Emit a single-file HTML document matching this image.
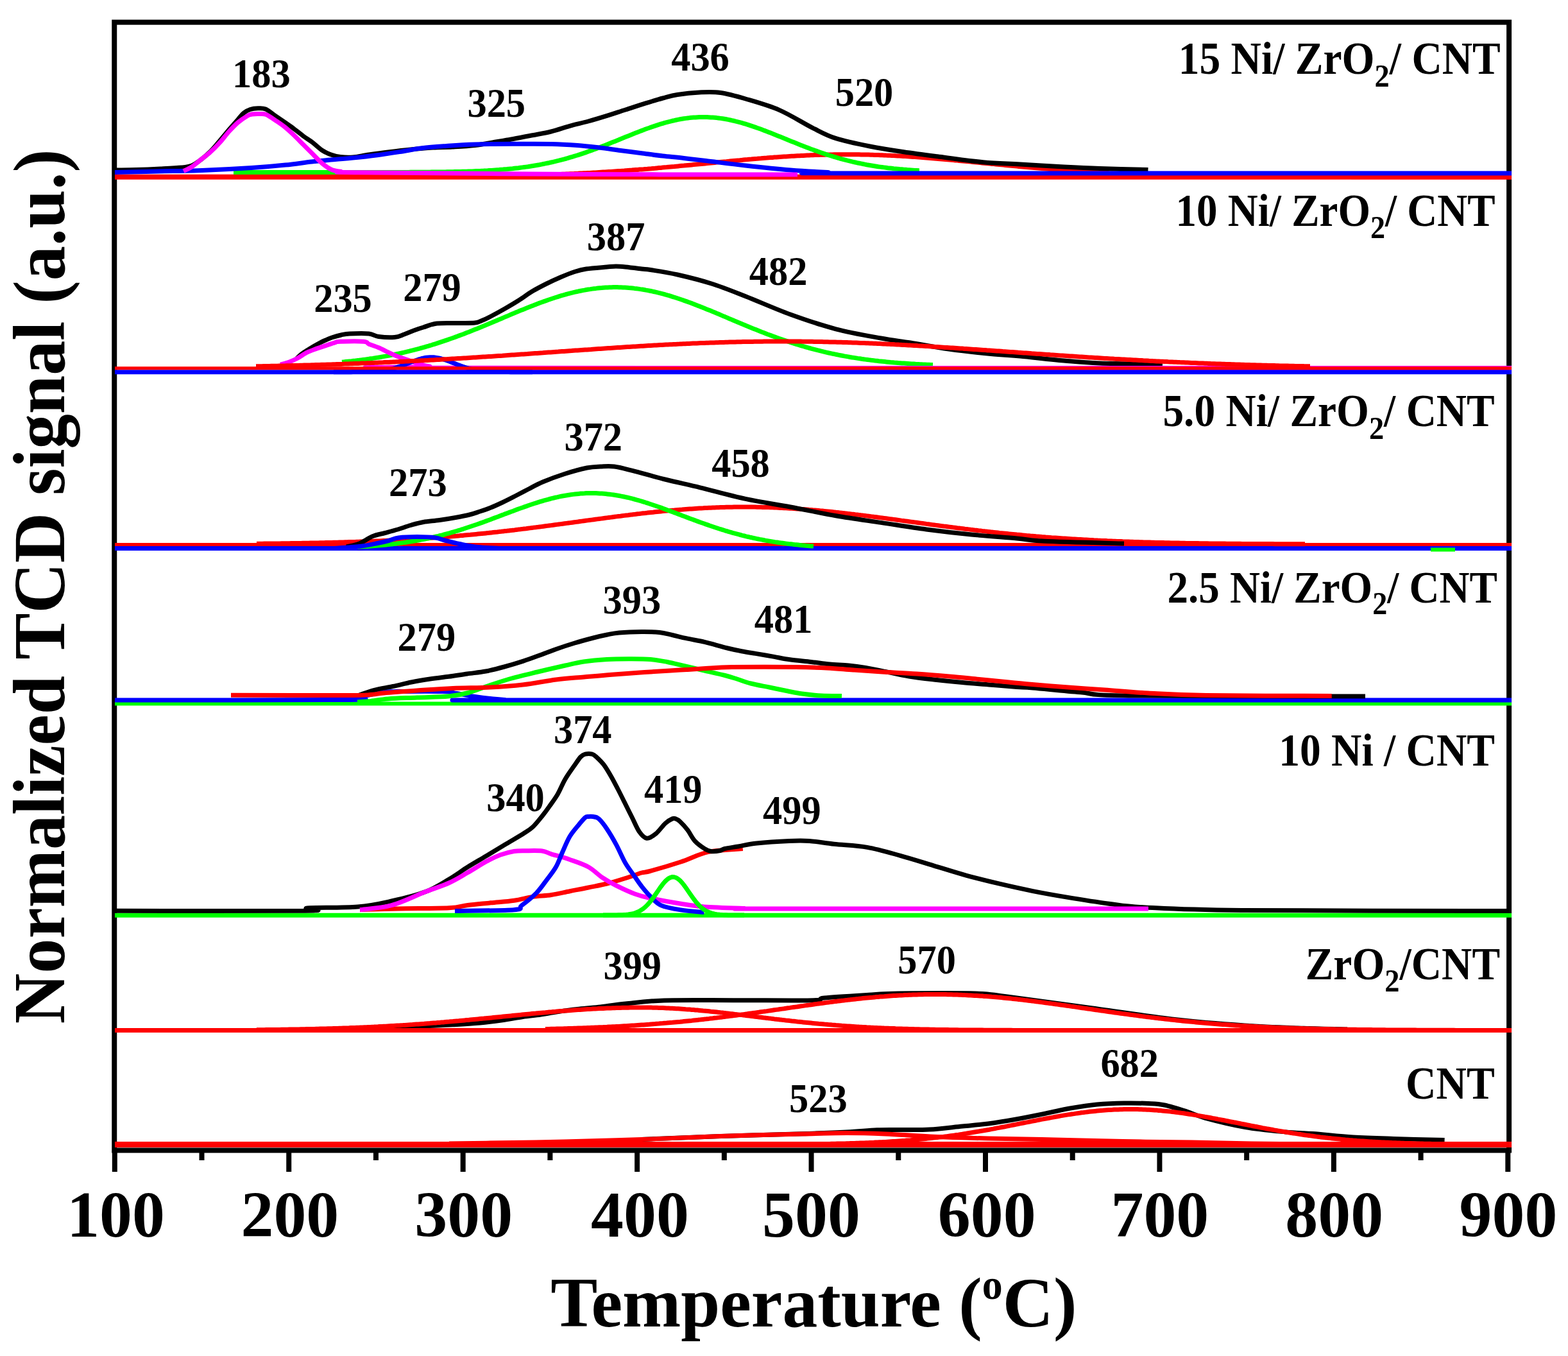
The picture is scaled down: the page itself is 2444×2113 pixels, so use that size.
<!DOCTYPE html>
<html><head><meta charset="utf-8"><title>TPR profiles</title>
<style>html,body{margin:0;padding:0;background:#fff;overflow:hidden;width:2444px;height:2113px;}svg{display:block;}</style></head>
<body><svg width="2444" height="2113" viewBox="0 0 2444 2113">
<rect width="2444" height="2113" fill="#fff"/>
<rect x="178.25" y="34.65" width="2173.85" height="1757.85" fill="none" stroke="#000" stroke-width="8"/>
<line x1="178.80" y1="1792.5" x2="178.80" y2="1826" stroke="#000" stroke-width="8"/>
<line x1="314.52" y1="1792.5" x2="314.52" y2="1808" stroke="#000" stroke-width="8"/>
<line x1="450.24" y1="1792.5" x2="450.24" y2="1826" stroke="#000" stroke-width="8"/>
<line x1="585.96" y1="1792.5" x2="585.96" y2="1808" stroke="#000" stroke-width="8"/>
<line x1="721.68" y1="1792.5" x2="721.68" y2="1826" stroke="#000" stroke-width="8"/>
<line x1="857.40" y1="1792.5" x2="857.40" y2="1808" stroke="#000" stroke-width="8"/>
<line x1="993.12" y1="1792.5" x2="993.12" y2="1826" stroke="#000" stroke-width="8"/>
<line x1="1128.84" y1="1792.5" x2="1128.84" y2="1808" stroke="#000" stroke-width="8"/>
<line x1="1264.56" y1="1792.5" x2="1264.56" y2="1826" stroke="#000" stroke-width="8"/>
<line x1="1400.28" y1="1792.5" x2="1400.28" y2="1808" stroke="#000" stroke-width="8"/>
<line x1="1536.00" y1="1792.5" x2="1536.00" y2="1826" stroke="#000" stroke-width="8"/>
<line x1="1671.72" y1="1792.5" x2="1671.72" y2="1808" stroke="#000" stroke-width="8"/>
<line x1="1807.44" y1="1792.5" x2="1807.44" y2="1826" stroke="#000" stroke-width="8"/>
<line x1="1943.16" y1="1792.5" x2="1943.16" y2="1808" stroke="#000" stroke-width="8"/>
<line x1="2078.88" y1="1792.5" x2="2078.88" y2="1826" stroke="#000" stroke-width="8"/>
<line x1="2214.60" y1="1792.5" x2="2214.60" y2="1808" stroke="#000" stroke-width="8"/>
<line x1="2350.32" y1="1792.5" x2="2350.32" y2="1826" stroke="#000" stroke-width="8"/>
<g id="curves">
<path d="M179,275.7 L2356,275.7" stroke="#f00" stroke-width="8" fill="none" stroke-linejoin="round"/>
<path d="M700.0,275.1 L703.0,275.1 L706.0,275.1 L709.0,275.0 L712.0,275.0 L715.0,275.0 L718.0,275.0 L721.0,274.9 L724.0,274.9 L727.0,274.9 L730.0,274.8 L733.0,274.8 L736.0,274.8 L739.0,274.7 L742.0,274.7 L745.0,274.7 L748.0,274.6 L751.0,274.6 L754.0,274.5 L757.0,274.5 L760.0,274.4 L763.0,274.4 L766.0,274.4 L769.0,274.3 L772.0,274.3 L775.0,274.2 L778.0,274.2 L781.0,274.1 L784.0,274.0 L787.0,274.0 L790.0,273.9 L793.0,273.9 L796.0,273.8 L799.0,273.7 L802.0,273.7 L805.0,273.6 L808.0,273.5 L811.0,273.5 L814.0,273.4 L817.0,273.3 L820.0,273.2 L823.0,273.2 L826.0,273.1 L829.0,273.0 L832.0,272.9 L835.0,272.8 L838.0,272.7 L841.0,272.6 L844.0,272.5 L847.0,272.4 L850.0,272.3 L853.0,272.2 L856.0,272.1 L859.0,272.0 L862.0,271.9 L865.0,271.8 L868.0,271.7 L871.0,271.6 L874.0,271.5 L877.0,271.3 L880.0,271.2 L883.0,271.1 L886.0,271.0 L889.0,270.8 L892.0,270.7 L895.0,270.6 L898.0,270.4 L901.0,270.3 L904.0,270.1 L907.0,270.0 L910.0,269.8 L913.0,269.7 L916.0,269.5 L919.0,269.4 L922.0,269.2 L925.0,269.0 L928.0,268.9 L931.0,268.7 L934.0,268.5 L937.0,268.3 L940.0,268.1 L943.0,268.0 L946.0,267.8 L949.0,267.6 L952.0,267.4 L955.0,267.2 L958.0,267.0 L961.0,266.8 L964.0,266.6 L967.0,266.4 L970.0,266.2 L973.0,266.0 L976.0,265.7 L979.0,265.5 L982.0,265.3 L985.0,265.1 L988.0,264.8 L991.0,264.6 L994.0,264.4 L997.0,264.1 L1000.0,263.9 L1003.0,263.7 L1006.0,263.4 L1009.0,263.2 L1012.0,262.9 L1015.0,262.7 L1018.0,262.4 L1021.0,262.2 L1024.0,261.9 L1027.0,261.6 L1030.0,261.4 L1033.0,261.1 L1036.0,260.8 L1039.0,260.6 L1042.0,260.3 L1045.0,260.0 L1048.0,259.7 L1051.0,259.5 L1054.0,259.2 L1057.0,258.9 L1060.0,258.6 L1063.0,258.3 L1066.0,258.1 L1069.0,257.8 L1072.0,257.5 L1075.0,257.2 L1078.0,256.9 L1081.0,256.6 L1084.0,256.3 L1087.0,256.0 L1090.0,255.7 L1093.0,255.4 L1096.0,255.2 L1099.0,254.9 L1102.0,254.6 L1105.0,254.3 L1108.0,254.0 L1111.0,253.7 L1114.0,253.4 L1117.0,253.1 L1120.0,252.8 L1123.0,252.5 L1126.0,252.2 L1129.0,251.9 L1132.0,251.7 L1135.0,251.4 L1138.0,251.1 L1141.0,250.8 L1144.0,250.5 L1147.0,250.2 L1150.0,249.9 L1153.0,249.7 L1156.0,249.4 L1159.0,249.1 L1162.0,248.8 L1165.0,248.6 L1168.0,248.3 L1171.0,248.1 L1174.0,247.8 L1177.0,247.5 L1180.0,247.3 L1183.0,247.0 L1186.0,246.8 L1189.0,246.5 L1192.0,246.3 L1195.0,246.1 L1198.0,245.8 L1201.0,245.6 L1204.0,245.4 L1207.0,245.1 L1210.0,244.9 L1213.0,244.7 L1216.0,244.5 L1219.0,244.3 L1222.0,244.1 L1225.0,243.9 L1228.0,243.7 L1231.0,243.5 L1234.0,243.3 L1237.0,243.2 L1240.0,243.0 L1243.0,242.8 L1246.0,242.7 L1249.0,242.5 L1252.0,242.4 L1255.0,242.2 L1258.0,242.1 L1261.0,242.0 L1264.0,241.8 L1267.0,241.7 L1270.0,241.6 L1273.0,241.5 L1276.0,241.4 L1279.0,241.3 L1282.0,241.2 L1285.0,241.2 L1288.0,241.1 L1291.0,241.0 L1294.0,241.0 L1297.0,240.9 L1300.0,240.8 L1303.0,240.8 L1306.0,240.8 L1309.0,240.7 L1312.0,240.7 L1315.0,240.7 L1318.0,240.7 L1321.0,240.7 L1324.0,240.7 L1327.0,240.7 L1330.0,240.7 L1333.0,240.8 L1336.0,240.8 L1339.0,240.8 L1342.0,240.9 L1345.0,240.9 L1348.0,241.0 L1351.0,241.1 L1354.0,241.1 L1357.0,241.2 L1360.0,241.3 L1363.0,241.4 L1366.0,241.5 L1369.0,241.6 L1372.0,241.7 L1375.0,241.8 L1378.0,241.9 L1381.0,242.1 L1384.0,242.2 L1387.0,242.3 L1390.0,242.5 L1393.0,242.6 L1396.0,242.8 L1399.0,242.9 L1402.0,243.1 L1405.0,243.3 L1408.0,243.5 L1411.0,243.6 L1414.0,243.8 L1417.0,244.0 L1420.0,244.2 L1423.0,244.4 L1426.0,244.6 L1429.0,244.8 L1432.0,245.1 L1435.0,245.3 L1438.0,245.5 L1441.0,245.7 L1444.0,246.0 L1447.0,246.2 L1450.0,246.4 L1453.0,246.7 L1456.0,246.9 L1459.0,247.2 L1462.0,247.4 L1465.0,247.7 L1468.0,248.0 L1471.0,248.2 L1474.0,248.5 L1477.0,248.8 L1480.0,249.0 L1483.0,249.3 L1486.0,249.6 L1489.0,249.9 L1492.0,250.1 L1495.0,250.4 L1498.0,250.7 L1501.0,251.0 L1504.0,251.3 L1507.0,251.6 L1510.0,251.8 L1513.0,252.1 L1516.0,252.4 L1519.0,252.7 L1522.0,253.0 L1525.0,253.3 L1528.0,253.6 L1531.0,253.9 L1534.0,254.2 L1537.0,254.5 L1540.0,254.8 L1543.0,255.1 L1546.0,255.4 L1549.0,255.6 L1552.0,255.9 L1555.0,256.2 L1558.0,256.5 L1561.0,256.8 L1564.0,257.1 L1567.0,257.4 L1570.0,257.7 L1573.0,258.0 L1576.0,258.2 L1579.0,258.5 L1582.0,258.8 L1585.0,259.1 L1588.0,259.4 L1591.0,259.7 L1594.0,259.9 L1597.0,260.2 L1600.0,260.5 L1603.0,260.7 L1606.0,261.0 L1609.0,261.3 L1612.0,261.5 L1615.0,261.8 L1618.0,262.1 L1621.0,262.3 L1624.0,262.6 L1627.0,262.8 L1630.0,263.1 L1633.0,263.3 L1636.0,263.6 L1639.0,263.8 L1642.0,264.1 L1645.0,264.3 L1648.0,264.5 L1651.0,264.8 L1654.0,265.0 L1657.0,265.2 L1660.0,265.4 L1663.0,265.7 L1666.0,265.9 L1669.0,266.1 L1672.0,266.3 L1675.0,266.5 L1678.0,266.7 L1681.0,266.9 L1684.0,267.1 L1687.0,267.3 L1690.0,267.5 L1693.0,267.7 L1696.0,267.9 L1699.0,268.1 L1702.0,268.3 L1705.0,268.4 L1708.0,268.6 L1711.0,268.8 L1714.0,269.0 L1717.0,269.1 L1720.0,269.3 L1723.0,269.5 L1726.0,269.6 L1729.0,269.8 L1732.0,269.9 L1735.0,270.1 L1738.0,270.2 L1741.0,270.4 L1744.0,270.5 L1747.0,270.7 L1750.0,270.8 L1753.0,270.9 L1756.0,271.0 L1759.0,271.2 L1762.0,271.3 L1765.0,271.4 L1768.0,271.5 L1771.0,271.7 L1774.0,271.8 L1777.0,271.9 L1780.0,272.0 L1783.0,272.1 L1786.0,272.2 L1789.0,272.3 L1792.0,272.4 L1795.0,272.5 L1798.0,272.6 L1801.0,272.7 L1804.0,272.8 L1807.0,272.9 L1810.0,273.0 L1813.0,273.0 L1816.0,273.1 L1819.0,273.2 L1822.0,273.3 L1825.0,273.4 L1828.0,273.4 L1831.0,273.5 L1834.0,273.6 L1837.0,273.7 L1840.0,273.7 L1843.0,273.8 L1846.0,273.8 L1849.0,273.9 L1852.0,274.0 L1855.0,274.0 L1858.0,274.1 L1861.0,274.1 L1864.0,274.2 L1867.0,274.2 L1870.0,274.3 L1873.0,274.3 L1876.0,274.4 L1879.0,274.4 L1882.0,274.5 L1885.0,274.5 L1888.0,274.6 L1891.0,274.6 L1894.0,274.6 L1897.0,274.7 L1900.0,274.7 L1903.0,274.8 L1906.0,274.8 L1909.0,274.8 L1912.0,274.9 L1915.0,274.9 L1918.0,274.9 L1921.0,274.9 L1924.0,275.0 L1927.0,275.0 L1930.0,275.0 L1933.0,275.1 L1936.0,275.1 L1939.0,275.1 L1942.0,275.1 L1945.0,275.1 L1948.0,275.2 L1951.0,275.2 L1954.0,275.2 L1957.0,275.2 L1960.0,275.2 L1963.0,275.3 L1966.0,275.3 L1969.0,275.3 L1972.0,275.3 L1975.0,275.3 L1978.0,275.3 L1981.0,275.4 L1984.0,275.4 L1987.0,275.4 L1990.0,275.4 L1993.0,275.4 L1996.0,275.4 L1999.0,275.4 L2002.0,275.4 L2005.0,275.5 L2008.0,275.5 L2011.0,275.5 L2014.0,275.5 L2017.0,275.5 L2020.0,275.5 L2023.0,275.5 L2026.0,275.5 L2029.0,275.5 L2032.0,275.5 L2035.0,275.5 L2038.0,275.6 L2041.0,275.6 L2044.0,275.6 L2047.0,275.6 L2050.0,275.6 L2053.0,275.6 L2056.0,275.6 L2059.0,275.6 L2062.0,275.6 L2065.0,275.6 L2068.0,275.6 L2071.0,275.6 L2074.0,275.6 L2077.0,275.6 L2080.0,275.6 L2083.0,275.6 L2086.0,275.6 L2089.0,275.6 L2092.0,275.6 L2095.0,275.6 L2098.0,275.6 L2101.0,275.6 L2104.0,275.6 L2107.0,275.7 L2110.0,275.7 L2113.0,275.7 L2116.0,275.7 L2119.0,275.7 L2122.0,275.7 L2125.0,275.7 L2128.0,275.7 L2131.0,275.7 L2134.0,275.7 L2137.0,275.7 L2140.0,275.7 L2143.0,275.7 L2146.0,275.7 L2149.0,275.7 L2152.0,275.7 L2155.0,275.7 L2158.0,275.7 L2161.0,275.7 L2164.0,275.7 L2167.0,275.7 L2170.0,275.7 L2173.0,275.7 L2176.0,275.7 L2179.0,275.7 L2182.0,275.7 L2185.0,275.7 L2188.0,275.7 L2191.0,275.7 L2194.0,275.7 L2197.0,275.7 L2200.0,275.7 L2203.0,275.7 L2206.0,275.7 L2209.0,275.7 L2212.0,275.7 L2215.0,275.7 L2218.0,275.7 L2221.0,275.7 L2224.0,275.7 L2227.0,275.7 L2230.0,275.7 L2233.0,275.7 L2236.0,275.7 L2239.0,275.7 L2242.0,275.7 L2245.0,275.7 L2248.0,275.7 L2251.0,275.7 L2254.0,275.7 L2257.0,275.7 L2260.0,275.7 L2263.0,275.7 L2266.0,275.7 L2269.0,275.7 L2272.0,275.7 L2275.0,275.7 L2278.0,275.7 L2281.0,275.7 L2284.0,275.7 L2287.0,275.7 L2290.0,275.7 L2293.0,275.7 L2296.0,275.7 L2299.0,275.7 L2302.0,275.7 L2305.0,275.7 L2308.0,275.7 L2311.0,275.7 L2314.0,275.7 L2317.0,275.7 L2320.0,275.7 L2323.0,275.7 L2326.0,275.7 L2329.0,275.7 L2332.0,275.7 L2335.0,275.7 L2338.0,275.7 L2341.0,275.7 L2344.0,275.7 L2347.0,275.7 L2350.0,275.7 L2353.0,275.7 L2356.0,275.7" stroke="#f00" stroke-width="7" fill="none" stroke-linejoin="round"/>
<path d="M364.0,268.5 L367.0,268.5 L370.0,268.5 L373.0,268.5 L376.0,268.5 L379.0,268.5 L382.0,268.5 L385.0,268.5 L388.0,268.5 L391.0,268.5 L394.0,268.5 L397.0,268.5 L400.0,268.5 L403.0,268.5 L406.0,268.5 L409.0,268.5 L412.0,268.5 L415.0,268.5 L418.0,268.5 L421.0,268.5 L424.0,268.5 L427.0,268.5 L430.0,268.5 L433.0,268.5 L436.0,268.5 L439.0,268.5 L442.0,268.5 L445.0,268.5 L448.0,268.5 L451.0,268.5 L454.0,268.5 L457.0,268.5 L460.0,268.5 L463.0,268.5 L466.0,268.5 L469.0,268.5 L472.0,268.5 L475.0,268.5 L478.0,268.5 L481.0,268.5 L484.0,268.5 L487.0,268.5 L490.0,268.5 L493.0,268.5 L496.0,268.5 L499.0,268.5 L502.0,268.5 L505.0,268.5 L508.0,268.5 L511.0,268.5 L514.0,268.5 L517.0,268.5 L520.0,268.5 L523.0,268.5 L526.0,268.5 L529.0,268.5 L532.0,268.5 L535.0,268.5 L538.0,268.5 L541.0,268.5 L544.0,268.5 L547.0,268.5 L550.0,268.5 L553.0,268.5 L556.0,268.5 L559.0,268.5 L562.0,268.5 L565.0,268.5 L568.0,268.5 L571.0,268.5 L574.0,268.5 L577.0,268.5 L580.0,268.5 L583.0,268.5 L586.0,268.5 L589.0,268.5 L592.0,268.5 L595.0,268.5 L598.0,268.5 L601.0,268.5 L604.0,268.4 L607.0,268.4 L610.0,268.4 L613.0,268.4 L616.0,268.4 L619.0,268.4 L622.0,268.4 L625.0,268.4 L628.0,268.4 L631.0,268.4 L634.0,268.4 L637.0,268.4 L640.0,268.3 L643.0,268.3 L646.0,268.3 L649.0,268.3 L652.0,268.3 L655.0,268.3 L658.0,268.3 L661.0,268.2 L664.0,268.2 L667.0,268.2 L670.0,268.2 L673.0,268.1 L676.0,268.1 L679.0,268.1 L682.0,268.0 L685.0,268.0 L688.0,268.0 L691.0,267.9 L694.0,267.9 L697.0,267.8 L700.0,267.8 L703.0,267.7 L706.0,267.7 L709.0,267.6 L712.0,267.5 L715.0,267.5 L718.0,267.4 L721.0,267.3 L724.0,267.2 L727.0,267.2 L730.0,267.1 L733.0,267.0 L736.0,266.9 L739.0,266.7 L742.0,266.6 L745.0,266.5 L748.0,266.4 L751.0,266.2 L754.0,266.1 L757.0,265.9 L760.0,265.8 L763.0,265.6 L766.0,265.4 L769.0,265.2 L772.0,265.0 L775.0,264.8 L778.0,264.6 L781.0,264.3 L784.0,264.1 L787.0,263.8 L790.0,263.6 L793.0,263.3 L796.0,263.0 L799.0,262.7 L802.0,262.3 L805.0,262.0 L808.0,261.7 L811.0,261.3 L814.0,260.9 L817.0,260.5 L820.0,260.1 L823.0,259.7 L826.0,259.2 L829.0,258.7 L832.0,258.2 L835.0,257.7 L838.0,257.2 L841.0,256.7 L844.0,256.1 L847.0,255.5 L850.0,254.9 L853.0,254.3 L856.0,253.7 L859.0,253.0 L862.0,252.3 L865.0,251.6 L868.0,250.9 L871.0,250.2 L874.0,249.4 L877.0,248.6 L880.0,247.8 L883.0,247.0 L886.0,246.1 L889.0,245.2 L892.0,244.3 L895.0,243.4 L898.0,242.5 L901.0,241.6 L904.0,240.6 L907.0,239.6 L910.0,238.6 L913.0,237.6 L916.0,236.5 L919.0,235.4 L922.0,234.4 L925.0,233.3 L928.0,232.2 L931.0,231.0 L934.0,229.9 L937.0,228.7 L940.0,227.6 L943.0,226.4 L946.0,225.2 L949.0,224.0 L952.0,222.8 L955.0,221.6 L958.0,220.4 L961.0,219.2 L964.0,218.0 L967.0,216.7 L970.0,215.5 L973.0,214.3 L976.0,213.1 L979.0,211.9 L982.0,210.7 L985.0,209.5 L988.0,208.3 L991.0,207.1 L994.0,205.9 L997.0,204.7 L1000.0,203.6 L1003.0,202.5 L1006.0,201.3 L1009.0,200.2 L1012.0,199.2 L1015.0,198.1 L1018.0,197.1 L1021.0,196.1 L1024.0,195.1 L1027.0,194.1 L1030.0,193.2 L1033.0,192.3 L1036.0,191.4 L1039.0,190.6 L1042.0,189.8 L1045.0,189.1 L1048.0,188.3 L1051.0,187.7 L1054.0,187.0 L1057.0,186.4 L1060.0,185.8 L1063.0,185.3 L1066.0,184.8 L1069.0,184.4 L1072.0,184.0 L1075.0,183.6 L1078.0,183.3 L1081.0,183.1 L1084.0,182.9 L1087.0,182.7 L1090.0,182.6 L1093.0,182.5 L1096.0,182.5 L1099.0,182.5 L1102.0,182.6 L1105.0,182.7 L1108.0,182.9 L1111.0,183.1 L1114.0,183.3 L1117.0,183.6 L1120.0,184.0 L1123.0,184.4 L1126.0,184.8 L1129.0,185.3 L1132.0,185.8 L1135.0,186.4 L1138.0,187.0 L1141.0,187.7 L1144.0,188.3 L1147.0,189.1 L1150.0,189.8 L1153.0,190.6 L1156.0,191.4 L1159.0,192.3 L1162.0,193.2 L1165.0,194.1 L1168.0,195.1 L1171.0,196.1 L1174.0,197.1 L1177.0,198.1 L1180.0,199.2 L1183.0,200.2 L1186.0,201.3 L1189.0,202.5 L1192.0,203.6 L1195.0,204.7 L1198.0,205.9 L1201.0,207.1 L1204.0,208.3 L1207.0,209.5 L1210.0,210.7 L1213.0,211.9 L1216.0,213.1 L1219.0,214.3 L1222.0,215.5 L1225.0,216.7 L1228.0,218.0 L1231.0,219.2 L1234.0,220.4 L1237.0,221.6 L1240.0,222.8 L1243.0,224.0 L1246.0,225.2 L1249.0,226.4 L1252.0,227.6 L1255.0,228.7 L1258.0,229.9 L1261.0,231.0 L1264.0,232.2 L1267.0,233.3 L1270.0,234.4 L1273.0,235.4 L1276.0,236.5 L1279.0,237.6 L1282.0,238.6 L1285.0,239.6 L1288.0,240.6 L1291.0,241.6 L1294.0,242.5 L1297.0,243.4 L1300.0,244.3 L1303.0,245.2 L1306.0,246.1 L1309.0,247.0 L1312.0,247.8 L1315.0,248.6 L1318.0,249.4 L1321.0,250.2 L1324.0,250.9 L1327.0,251.6 L1330.0,252.3 L1333.0,253.0 L1336.0,253.7 L1339.0,254.3 L1342.0,254.9 L1345.0,255.5 L1348.0,256.1 L1351.0,256.7 L1354.0,257.2 L1357.0,257.7 L1360.0,258.2 L1363.0,258.7 L1366.0,259.2 L1369.0,259.7 L1372.0,260.1 L1375.0,260.5 L1378.0,260.9 L1381.0,261.3 L1384.0,261.7 L1387.0,262.0 L1390.0,262.3 L1393.0,262.7 L1396.0,263.0 L1399.0,263.3 L1402.0,263.6 L1405.0,263.8 L1408.0,264.1 L1411.0,264.3 L1414.0,264.6 L1417.0,264.8 L1420.0,265.0 L1423.0,265.2 L1426.0,265.4 L1429.0,265.6 L1432.0,265.8 L1433.0,265.8" stroke="#0f0" stroke-width="7" fill="none" stroke-linejoin="round"/>
<path d="M182.0,265.0 C187.0,264.9 200.7,264.8 212.0,264.5 C223.3,264.2 238.2,263.6 250.0,263.0 C261.8,262.4 274.8,261.8 283.0,261.0 C291.2,260.2 294.0,260.0 299.0,258.0 C304.0,256.0 308.2,252.7 313.0,249.0 C317.8,245.3 323.2,240.8 328.0,236.0 C332.8,231.2 337.2,225.7 342.0,220.0 C346.8,214.3 352.2,207.7 357.0,202.0 C361.8,196.3 367.2,190.3 371.0,186.0 C374.8,181.7 376.8,178.6 380.0,176.0 C383.2,173.4 386.3,171.7 390.0,170.5 C393.7,169.3 398.0,168.9 402.0,168.8 C406.0,168.7 409.5,168.1 414.0,170.0 C418.5,171.9 424.1,177.1 429.0,180.5 C433.9,183.9 438.8,187.1 443.7,190.5 C448.6,193.9 453.4,197.1 458.2,200.7 C463.0,204.3 467.9,208.4 472.7,212.0 C477.5,215.6 482.4,218.3 487.2,222.0 C492.0,225.7 496.9,230.8 501.7,234.0 C506.5,237.2 511.2,239.2 516.0,241.0 C520.8,242.8 524.9,243.8 530.6,244.5 C536.3,245.2 542.6,245.6 550.0,245.0 C557.4,244.4 565.8,242.3 575.0,241.0 C584.2,239.7 594.2,238.3 605.0,237.0 C615.8,235.7 628.3,234.2 640.0,233.0 C651.7,231.8 664.2,230.7 675.0,230.0 C685.8,229.3 694.2,229.6 705.0,229.0 C715.8,228.4 728.7,227.8 740.0,226.5 C751.3,225.2 763.0,222.7 773.0,221.0 C783.0,219.3 790.5,218.2 800.0,216.5 C809.5,214.8 820.2,212.7 830.0,210.8 C839.8,208.9 849.3,207.4 859.0,205.0 C868.7,202.6 878.3,199.0 888.0,196.3 C897.7,193.6 907.3,191.7 917.0,189.0 C926.7,186.3 936.3,183.4 946.0,180.4 C955.7,177.4 965.3,174.1 975.0,171.0 C984.7,167.9 994.3,164.6 1004.0,161.6 C1013.7,158.6 1024.3,155.3 1033.0,153.0 C1041.7,150.7 1046.5,149.0 1056.0,147.5 C1065.5,146.0 1078.8,144.5 1090.0,144.0 C1101.2,143.5 1111.0,142.8 1123.0,144.5 C1135.0,146.2 1146.7,149.5 1162.0,154.0 C1177.3,158.5 1197.4,164.0 1215.0,171.6 C1232.6,179.2 1252.9,192.5 1267.6,199.8 C1282.3,207.2 1288.3,211.0 1303.0,215.7 C1317.7,220.4 1338.1,224.5 1355.7,228.0 C1373.3,231.5 1391.0,234.2 1408.5,236.8 C1426.0,239.4 1440.4,241.2 1461.0,243.8 C1481.6,246.5 1510.5,250.7 1532.0,252.7 C1553.5,254.7 1569.0,254.8 1590.0,256.0 C1611.0,257.2 1637.3,258.9 1658.0,260.0 C1678.7,261.1 1692.1,261.8 1714.0,262.5 C1735.9,263.2 1776.9,264.2 1789.5,264.5" stroke="#000" stroke-width="7" fill="none" stroke-linejoin="round"/>
<path d="M179.0,268.5 C194.2,268.2 247.3,267.0 270.0,266.5 C292.7,266.0 294.7,266.3 315.0,265.5 C335.3,264.7 370.3,262.9 392.0,261.5 C413.7,260.1 429.3,258.7 445.0,257.1 C460.7,255.5 473.2,253.4 486.0,252.0 C498.8,250.6 511.3,249.5 522.0,248.5 C532.7,247.5 539.0,247.1 550.0,246.0 C561.0,244.9 575.8,243.3 588.0,241.7 C600.2,240.1 611.3,238.4 623.0,236.6 C634.7,234.8 645.8,232.3 658.0,230.8 C670.2,229.3 682.3,228.5 696.0,227.5 C709.7,226.5 722.7,225.5 740.0,225.0 C757.3,224.5 780.0,224.4 800.0,224.3 C820.0,224.2 843.3,224.0 860.0,224.4 C876.7,224.8 887.7,225.6 900.0,226.5 C912.3,227.4 922.8,228.7 934.0,230.0 C945.2,231.3 955.7,233.0 967.0,234.5 C978.3,236.0 991.0,237.6 1002.0,239.0 C1013.0,240.4 1022.3,241.8 1033.0,243.0 C1043.7,244.2 1054.8,245.2 1066.0,246.5 C1077.2,247.8 1084.0,248.6 1100.0,250.5 C1116.0,252.4 1140.0,255.6 1162.0,258.0 C1184.0,260.4 1210.7,263.2 1232.0,265.0 C1253.3,266.8 1272.3,267.7 1290.0,268.5 C1307.7,269.3 1160.3,269.8 1338.0,270.0 C1515.7,270.2 2186.3,270.0 2356.0,270.0" stroke="#00f" stroke-width="7" fill="none" stroke-linejoin="round"/>
<path d="M286.0,266.5 C288.2,265.4 294.4,263.0 299.0,260.0 C303.6,257.0 308.6,252.3 313.4,248.5 C318.2,244.7 323.2,241.2 328.0,236.9 C332.8,232.6 337.6,227.7 342.4,222.4 C347.2,217.1 352.1,210.3 356.9,205.0 C361.7,199.7 366.5,194.6 371.3,190.5 C376.1,186.4 382.2,182.5 385.8,180.4 C389.4,178.3 390.0,178.5 393.0,178.0 C396.0,177.5 400.4,177.4 404.0,177.5 C407.6,177.6 410.6,176.8 414.8,178.5 C419.0,180.2 424.5,184.4 429.3,187.6 C434.1,190.8 438.9,193.9 443.7,197.8 C448.5,201.7 453.4,206.2 458.2,210.8 C463.0,215.4 467.9,220.5 472.7,225.3 C477.5,230.1 482.4,235.0 487.2,239.8 C492.0,244.6 496.9,250.2 501.7,254.2 C506.5,258.2 511.2,261.8 516.0,264.0 C520.8,266.2 523.3,266.5 530.6,267.3 C537.9,268.1 498.0,268.0 559.6,268.7 C621.2,269.4 786.1,270.9 900.0,271.5 C1013.9,272.1 1185.8,271.9 1243.0,272.0" stroke="#f0f" stroke-width="7" fill="none" stroke-linejoin="round"/>
<path d="M533.0,564.2 L536.0,563.9 L539.0,563.6 L542.0,563.3 L545.0,563.0 L548.0,562.7 L551.0,562.3 L554.0,562.0 L557.0,561.6 L560.0,561.3 L563.0,560.9 L566.0,560.5 L569.0,560.1 L572.0,559.7 L575.0,559.3 L578.0,558.8 L581.0,558.4 L584.0,557.9 L587.0,557.4 L590.0,557.0 L593.0,556.5 L596.0,555.9 L599.0,555.4 L602.0,554.9 L605.0,554.3 L608.0,553.7 L611.0,553.1 L614.0,552.5 L617.0,551.9 L620.0,551.3 L623.0,550.6 L626.0,550.0 L629.0,549.3 L632.0,548.6 L635.0,547.9 L638.0,547.2 L641.0,546.4 L644.0,545.7 L647.0,544.9 L650.0,544.1 L653.0,543.3 L656.0,542.5 L659.0,541.7 L662.0,540.8 L665.0,539.9 L668.0,539.1 L671.0,538.2 L674.0,537.2 L677.0,536.3 L680.0,535.4 L683.0,534.4 L686.0,533.4 L689.0,532.4 L692.0,531.4 L695.0,530.4 L698.0,529.4 L701.0,528.3 L704.0,527.3 L707.0,526.2 L710.0,525.1 L713.0,524.0 L716.0,522.9 L719.0,521.8 L722.0,520.7 L725.0,519.5 L728.0,518.3 L731.0,517.2 L734.0,516.0 L737.0,514.8 L740.0,513.6 L743.0,512.4 L746.0,511.2 L749.0,510.0 L752.0,508.7 L755.0,507.5 L758.0,506.2 L761.0,505.0 L764.0,503.7 L767.0,502.5 L770.0,501.2 L773.0,500.0 L776.0,498.7 L779.0,497.4 L782.0,496.2 L785.0,494.9 L788.0,493.6 L791.0,492.4 L794.0,491.1 L797.0,489.8 L800.0,488.6 L803.0,487.3 L806.0,486.1 L809.0,484.8 L812.0,483.6 L815.0,482.4 L818.0,481.2 L821.0,479.9 L824.0,478.7 L827.0,477.6 L830.0,476.4 L833.0,475.2 L836.0,474.1 L839.0,472.9 L842.0,471.8 L845.0,470.7 L848.0,469.6 L851.0,468.6 L854.0,467.5 L857.0,466.5 L860.0,465.5 L863.0,464.5 L866.0,463.5 L869.0,462.6 L872.0,461.6 L875.0,460.7 L878.0,459.9 L881.0,459.0 L884.0,458.2 L887.0,457.4 L890.0,456.6 L893.0,455.9 L896.0,455.2 L899.0,454.5 L902.0,453.8 L905.0,453.2 L908.0,452.6 L911.0,452.1 L914.0,451.5 L917.0,451.0 L920.0,450.6 L923.0,450.1 L926.0,449.7 L929.0,449.4 L932.0,449.0 L935.0,448.7 L938.0,448.5 L941.0,448.2 L944.0,448.0 L947.0,447.9 L950.0,447.8 L953.0,447.7 L956.0,447.6 L959.0,447.6 L962.0,447.6 L965.0,447.7 L968.0,447.8 L971.0,447.9 L974.0,448.0 L977.0,448.2 L980.0,448.5 L983.0,448.7 L986.0,449.0 L989.0,449.4 L992.0,449.7 L995.0,450.1 L998.0,450.6 L1001.0,451.0 L1004.0,451.5 L1007.0,452.1 L1010.0,452.6 L1013.0,453.2 L1016.0,453.8 L1019.0,454.5 L1022.0,455.2 L1025.0,455.9 L1028.0,456.6 L1031.0,457.4 L1034.0,458.2 L1037.0,459.0 L1040.0,459.9 L1043.0,460.7 L1046.0,461.6 L1049.0,462.6 L1052.0,463.5 L1055.0,464.5 L1058.0,465.5 L1061.0,466.5 L1064.0,467.5 L1067.0,468.6 L1070.0,469.6 L1073.0,470.7 L1076.0,471.8 L1079.0,472.9 L1082.0,474.1 L1085.0,475.2 L1088.0,476.4 L1091.0,477.6 L1094.0,478.7 L1097.0,479.9 L1100.0,481.2 L1103.0,482.4 L1106.0,483.6 L1109.0,484.8 L1112.0,486.1 L1115.0,487.3 L1118.0,488.6 L1121.0,489.8 L1124.0,491.1 L1127.0,492.4 L1130.0,493.6 L1133.0,494.9 L1136.0,496.2 L1139.0,497.4 L1142.0,498.7 L1145.0,500.0 L1148.0,501.2 L1151.0,502.5 L1154.0,503.7 L1157.0,505.0 L1160.0,506.2 L1163.0,507.5 L1166.0,508.7 L1169.0,510.0 L1172.0,511.2 L1175.0,512.4 L1178.0,513.6 L1181.0,514.8 L1184.0,516.0 L1187.0,517.2 L1190.0,518.3 L1193.0,519.5 L1196.0,520.7 L1199.0,521.8 L1202.0,522.9 L1205.0,524.0 L1208.0,525.1 L1211.0,526.2 L1214.0,527.3 L1217.0,528.3 L1220.0,529.4 L1223.0,530.4 L1226.0,531.4 L1229.0,532.4 L1232.0,533.4 L1235.0,534.4 L1238.0,535.4 L1241.0,536.3 L1244.0,537.2 L1247.0,538.2 L1250.0,539.1 L1253.0,539.9 L1256.0,540.8 L1259.0,541.7 L1262.0,542.5 L1265.0,543.3 L1268.0,544.1 L1271.0,544.9 L1274.0,545.7 L1277.0,546.4 L1280.0,547.2 L1283.0,547.9 L1286.0,548.6 L1289.0,549.3 L1292.0,550.0 L1295.0,550.6 L1298.0,551.3 L1301.0,551.9 L1304.0,552.5 L1307.0,553.1 L1310.0,553.7 L1313.0,554.3 L1316.0,554.9 L1319.0,555.4 L1322.0,555.9 L1325.0,556.5 L1328.0,557.0 L1331.0,557.4 L1334.0,557.9 L1337.0,558.4 L1340.0,558.8 L1343.0,559.3 L1346.0,559.7 L1349.0,560.1 L1352.0,560.5 L1355.0,560.9 L1358.0,561.3 L1361.0,561.6 L1364.0,562.0 L1367.0,562.3 L1370.0,562.7 L1373.0,563.0 L1376.0,563.3 L1379.0,563.6 L1382.0,563.9 L1385.0,564.2 L1388.0,564.5 L1391.0,564.7 L1394.0,565.0 L1397.0,565.2 L1400.0,565.5 L1403.0,565.7 L1406.0,565.9 L1409.0,566.1 L1412.0,566.3 L1415.0,566.5 L1418.0,566.7 L1421.0,566.9 L1424.0,567.1 L1427.0,567.3 L1430.0,567.4 L1433.0,567.6 L1436.0,567.7 L1439.0,567.9 L1442.0,568.0 L1445.0,568.2 L1448.0,568.3 L1451.0,568.4 L1454.0,568.5" stroke="#0f0" stroke-width="7" fill="none" stroke-linejoin="round"/>
<path d="M462.0,559.0 C463.2,557.9 466.2,554.7 469.0,552.5 C471.8,550.3 475.4,548.1 478.6,546.0 C481.8,543.9 485.1,541.9 488.3,540.0 C491.5,538.1 494.8,536.2 498.0,534.5 C501.2,532.8 504.4,531.4 507.6,530.0 C510.8,528.6 513.2,527.3 517.2,526.0 C521.2,524.7 527.1,523.0 531.7,522.0 C536.3,521.0 537.8,520.3 545.0,520.0 C552.2,519.7 567.5,519.2 575.0,520.0 C582.5,520.8 583.3,523.6 590.0,524.5 C596.7,525.4 608.3,526.1 615.0,525.5 C621.7,524.9 625.0,522.8 630.0,521.0 C635.0,519.2 640.0,516.8 645.0,515.0 C650.0,513.2 654.0,511.8 660.0,510.0 C666.0,508.2 671.8,505.1 681.0,504.0 C690.2,502.9 705.2,503.7 715.0,503.5 C724.8,503.3 734.2,503.6 740.0,503.0 C745.8,502.4 745.8,501.7 750.0,500.0 C754.2,498.3 758.9,496.2 765.0,493.0 C771.1,489.8 779.6,485.2 786.9,481.0 C794.2,476.8 801.4,472.6 808.6,468.0 C815.8,463.4 823.1,457.9 830.3,453.6 C837.5,449.3 844.8,445.6 852.0,442.0 C859.2,438.4 866.5,435.1 873.7,432.0 C881.0,428.9 888.8,425.7 895.5,423.5 C902.2,421.3 905.6,420.2 914.0,419.0 C922.4,417.8 938.3,416.7 946.0,416.0 C953.7,415.3 955.2,415.0 960.0,415.0 C964.8,415.0 968.3,415.3 975.0,416.0 C981.7,416.7 993.5,418.2 1000.0,419.0 C1006.5,419.8 1004.7,419.0 1014.0,420.5 C1023.3,422.0 1040.2,424.4 1056.0,428.0 C1071.8,431.6 1091.3,436.4 1109.0,442.0 C1126.7,447.6 1141.5,453.7 1162.0,461.7 C1182.5,469.7 1208.5,481.5 1232.0,490.0 C1255.5,498.5 1279.5,506.6 1303.0,512.8 C1326.5,519.0 1353.7,523.5 1373.0,527.0 C1392.3,530.5 1401.3,531.2 1419.0,534.0 C1436.7,536.8 1457.2,541.0 1479.0,544.0 C1500.8,547.0 1531.0,550.2 1549.5,552.0 C1568.0,553.8 1571.9,553.3 1590.0,555.0 C1608.1,556.7 1637.3,560.2 1658.0,562.0 C1678.7,563.8 1688.3,565.1 1714.0,566.0 C1739.7,566.9 1795.7,567.2 1812.0,567.5" stroke="#000" stroke-width="7" fill="none" stroke-linejoin="round"/>
<path d="M437.0,568.0 C439.4,567.3 447.1,565.4 451.6,563.7 C456.1,562.0 459.5,560.4 464.0,558.0 C468.5,555.6 473.8,551.6 478.6,549.2 C483.4,546.8 488.2,545.2 493.0,543.4 C497.8,541.6 502.8,540.2 507.6,538.6 C512.4,537.0 518.3,534.8 522.0,533.8 C525.7,532.8 522.5,532.5 530.0,532.3 C537.5,532.0 559.5,531.6 567.0,532.3 C574.5,532.9 571.2,534.7 575.0,536.2 C578.8,537.7 584.8,539.5 589.6,541.5 C594.4,543.5 599.2,546.0 604.0,548.3 C608.8,550.5 613.8,553.0 618.6,555.0 C623.4,557.0 627.8,558.2 633.0,560.0 C638.2,561.8 643.8,564.2 650.0,566.0 C656.2,567.8 661.7,569.8 670.0,571.0 C678.3,572.2 419.0,572.9 700.0,573.3 C981.0,573.7 2080.0,573.5 2356.0,573.5" stroke="#f0f" stroke-width="7" fill="none" stroke-linejoin="round"/>
<path d="M179,579.7 L2356,579.7" stroke="#00f" stroke-width="7" fill="none" stroke-linejoin="round"/>
<path d="M520.0,579.7 L523.0,579.7 L526.0,579.7 L529.0,579.7 L532.0,579.7 L535.0,579.7 L538.0,579.7 L541.0,579.7 L544.0,579.7 L547.0,579.7 L550.0,579.6 L553.0,579.6 L556.0,579.6 L559.0,579.6 L562.0,579.5 L565.0,579.5 L568.0,579.4 L571.0,579.3 L574.0,579.2 L577.0,579.1 L580.0,579.0 L583.0,578.8 L586.0,578.6 L589.0,578.3 L592.0,578.0 L595.0,577.7 L598.0,577.2 L601.0,576.8 L604.0,576.2 L607.0,575.6 L610.0,574.9 L613.0,574.1 L616.0,573.3 L619.0,572.4 L622.0,571.4 L625.0,570.4 L628.0,569.3 L631.0,568.1 L634.0,566.9 L637.0,565.7 L640.0,564.6 L643.0,563.4 L646.0,562.2 L649.0,561.2 L652.0,560.2 L655.0,559.3 L658.0,558.5 L661.0,557.8 L664.0,557.3 L667.0,556.9 L670.0,556.7 L673.0,556.7 L676.0,556.8 L679.0,557.2 L682.0,557.6 L685.0,558.2 L688.0,559.0 L691.0,559.9 L694.0,560.8 L697.0,561.9 L700.0,563.0 L703.0,564.2 L706.0,565.4 L709.0,566.5 L712.0,567.7 L715.0,568.9 L718.0,570.0 L721.0,571.1 L724.0,572.1 L727.0,573.0 L730.0,573.9 L733.0,574.7 L736.0,575.4 L739.0,576.0 L742.0,576.6 L745.0,577.1 L748.0,577.5 L751.0,577.9 L754.0,578.2 L757.0,578.5 L760.0,578.7 L763.0,578.9 L766.0,579.1 L769.0,579.2 L772.0,579.3 L775.0,579.4 L778.0,579.5 L781.0,579.5 L784.0,579.6 L787.0,579.6 L790.0,579.6 L793.0,579.6 L796.0,579.7 L799.0,579.7 L802.0,579.7 L805.0,579.7 L808.0,579.7 L811.0,579.7 L814.0,579.7 L817.0,579.7 L820.0,579.7 L823.0,579.7 L826.0,579.7 L829.0,579.7 L830.0,579.7" stroke="#00f" stroke-width="7" fill="none" stroke-linejoin="round"/>
<path d="M179,573.7 L2356,573.7" stroke="#f00" stroke-width="5" fill="none" stroke-linejoin="round"/>
<path d="M399.0,570.8 L402.0,570.8 L405.0,570.7 L408.0,570.7 L411.0,570.6 L414.0,570.5 L417.0,570.5 L420.0,570.4 L423.0,570.3 L426.0,570.3 L429.0,570.2 L432.0,570.2 L435.0,570.1 L438.0,570.0 L441.0,569.9 L444.0,569.9 L447.0,569.8 L450.0,569.7 L453.0,569.7 L456.0,569.6 L459.0,569.5 L462.0,569.4 L465.0,569.4 L468.0,569.3 L471.0,569.2 L474.0,569.1 L477.0,569.0 L480.0,569.0 L483.0,568.9 L486.0,568.8 L489.0,568.7 L492.0,568.6 L495.0,568.5 L498.0,568.4 L501.0,568.3 L504.0,568.2 L507.0,568.2 L510.0,568.1 L513.0,568.0 L516.0,567.9 L519.0,567.8 L522.0,567.7 L525.0,567.6 L528.0,567.5 L531.0,567.4 L534.0,567.3 L537.0,567.1 L540.0,567.0 L543.0,566.9 L546.0,566.8 L549.0,566.7 L552.0,566.6 L555.0,566.5 L558.0,566.4 L561.0,566.3 L564.0,566.1 L567.0,566.0 L570.0,565.9 L573.0,565.8 L576.0,565.7 L579.0,565.5 L582.0,565.4 L585.0,565.3 L588.0,565.2 L591.0,565.0 L594.0,564.9 L597.0,564.8 L600.0,564.6 L603.0,564.5 L606.0,564.4 L609.0,564.2 L612.0,564.1 L615.0,563.9 L618.0,563.8 L621.0,563.7 L624.0,563.5 L627.0,563.4 L630.0,563.2 L633.0,563.1 L636.0,562.9 L639.0,562.8 L642.0,562.6 L645.0,562.5 L648.0,562.3 L651.0,562.2 L654.0,562.0 L657.0,561.8 L660.0,561.7 L663.0,561.5 L666.0,561.4 L669.0,561.2 L672.0,561.0 L675.0,560.9 L678.0,560.7 L681.0,560.5 L684.0,560.4 L687.0,560.2 L690.0,560.0 L693.0,559.8 L696.0,559.7 L699.0,559.5 L702.0,559.3 L705.0,559.1 L708.0,559.0 L711.0,558.8 L714.0,558.6 L717.0,558.4 L720.0,558.2 L723.0,558.0 L726.0,557.9 L729.0,557.7 L732.0,557.5 L735.0,557.3 L738.0,557.1 L741.0,556.9 L744.0,556.7 L747.0,556.5 L750.0,556.3 L753.0,556.1 L756.0,556.0 L759.0,555.8 L762.0,555.6 L765.0,555.4 L768.0,555.2 L771.0,555.0 L774.0,554.8 L777.0,554.6 L780.0,554.4 L783.0,554.2 L786.0,553.9 L789.0,553.7 L792.0,553.5 L795.0,553.3 L798.0,553.1 L801.0,552.9 L804.0,552.7 L807.0,552.5 L810.0,552.3 L813.0,552.1 L816.0,551.9 L819.0,551.7 L822.0,551.5 L825.0,551.2 L828.0,551.0 L831.0,550.8 L834.0,550.6 L837.0,550.4 L840.0,550.2 L843.0,550.0 L846.0,549.8 L849.0,549.5 L852.0,549.3 L855.0,549.1 L858.0,548.9 L861.0,548.7 L864.0,548.5 L867.0,548.3 L870.0,548.1 L873.0,547.8 L876.0,547.6 L879.0,547.4 L882.0,547.2 L885.0,547.0 L888.0,546.8 L891.0,546.6 L894.0,546.3 L897.0,546.1 L900.0,545.9 L903.0,545.7 L906.0,545.5 L909.0,545.3 L912.0,545.1 L915.0,544.9 L918.0,544.7 L921.0,544.5 L924.0,544.2 L927.0,544.0 L930.0,543.8 L933.0,543.6 L936.0,543.4 L939.0,543.2 L942.0,543.0 L945.0,542.8 L948.0,542.6 L951.0,542.4 L954.0,542.2 L957.0,542.0 L960.0,541.8 L963.0,541.6 L966.0,541.4 L969.0,541.2 L972.0,541.0 L975.0,540.8 L978.0,540.6 L981.0,540.5 L984.0,540.3 L987.0,540.1 L990.0,539.9 L993.0,539.7 L996.0,539.5 L999.0,539.3 L1002.0,539.2 L1005.0,539.0 L1008.0,538.8 L1011.0,538.6 L1014.0,538.5 L1017.0,538.3 L1020.0,538.1 L1023.0,538.0 L1026.0,537.8 L1029.0,537.6 L1032.0,537.5 L1035.0,537.3 L1038.0,537.1 L1041.0,537.0 L1044.0,536.8 L1047.0,536.7 L1050.0,536.5 L1053.0,536.4 L1056.0,536.2 L1059.0,536.1 L1062.0,535.9 L1065.0,535.8 L1068.0,535.7 L1071.0,535.5 L1074.0,535.4 L1077.0,535.2 L1080.0,535.1 L1083.0,535.0 L1086.0,534.9 L1089.0,534.7 L1092.0,534.6 L1095.0,534.5 L1098.0,534.4 L1101.0,534.3 L1104.0,534.2 L1107.0,534.1 L1110.0,534.0 L1113.0,533.9 L1116.0,533.8 L1119.0,533.7 L1122.0,533.6 L1125.0,533.5 L1128.0,533.4 L1131.0,533.3 L1134.0,533.2 L1137.0,533.1 L1140.0,533.0 L1143.0,533.0 L1146.0,532.9 L1149.0,532.8 L1152.0,532.8 L1155.0,532.7 L1158.0,532.6 L1161.0,532.6 L1164.0,532.5 L1167.0,532.5 L1170.0,532.4 L1173.0,532.4 L1176.0,532.3 L1179.0,532.3 L1182.0,532.2 L1185.0,532.2 L1188.0,532.2 L1191.0,532.1 L1194.0,532.1 L1197.0,532.1 L1200.0,532.1 L1203.0,532.0 L1206.0,532.0 L1209.0,532.0 L1212.0,532.0 L1215.0,532.0 L1218.0,532.0 L1221.0,532.0 L1224.0,532.0 L1227.0,532.0 L1230.0,532.0 L1233.0,532.0 L1236.0,532.0 L1239.0,532.1 L1242.0,532.1 L1245.0,532.1 L1248.0,532.1 L1251.0,532.2 L1254.0,532.2 L1257.0,532.2 L1260.0,532.3 L1263.0,532.3 L1266.0,532.3 L1269.0,532.4 L1272.0,532.4 L1275.0,532.5 L1278.0,532.6 L1281.0,532.6 L1284.0,532.7 L1287.0,532.7 L1290.0,532.8 L1293.0,532.9 L1296.0,532.9 L1299.0,533.0 L1302.0,533.1 L1305.0,533.2 L1308.0,533.3 L1311.0,533.3 L1314.0,533.4 L1317.0,533.5 L1320.0,533.6 L1323.0,533.7 L1326.0,533.8 L1329.0,533.9 L1332.0,534.0 L1335.0,534.1 L1338.0,534.2 L1341.0,534.4 L1344.0,534.5 L1347.0,534.6 L1350.0,534.7 L1353.0,534.8 L1356.0,535.0 L1359.0,535.1 L1362.0,535.2 L1365.0,535.3 L1368.0,535.5 L1371.0,535.6 L1374.0,535.7 L1377.0,535.9 L1380.0,536.0 L1383.0,536.2 L1386.0,536.3 L1389.0,536.5 L1392.0,536.6 L1395.0,536.8 L1398.0,536.9 L1401.0,537.1 L1404.0,537.2 L1407.0,537.4 L1410.0,537.6 L1413.0,537.7 L1416.0,537.9 L1419.0,538.1 L1422.0,538.2 L1425.0,538.4 L1428.0,538.6 L1431.0,538.8 L1434.0,538.9 L1437.0,539.1 L1440.0,539.3 L1443.0,539.5 L1446.0,539.6 L1449.0,539.8 L1452.0,540.0 L1455.0,540.2 L1458.0,540.4 L1461.0,540.6 L1464.0,540.8 L1467.0,541.0 L1470.0,541.2 L1473.0,541.4 L1476.0,541.5 L1479.0,541.7 L1482.0,541.9 L1485.0,542.1 L1488.0,542.3 L1491.0,542.5 L1494.0,542.7 L1497.0,542.9 L1500.0,543.1 L1503.0,543.4 L1506.0,543.6 L1509.0,543.8 L1512.0,544.0 L1515.0,544.2 L1518.0,544.4 L1521.0,544.6 L1524.0,544.8 L1527.0,545.0 L1530.0,545.2 L1533.0,545.4 L1536.0,545.6 L1539.0,545.9 L1542.0,546.1 L1545.0,546.3 L1548.0,546.5 L1551.0,546.7 L1554.0,546.9 L1557.0,547.1 L1560.0,547.3 L1563.0,547.6 L1566.0,547.8 L1569.0,548.0 L1572.0,548.2 L1575.0,548.4 L1578.0,548.6 L1581.0,548.8 L1584.0,549.0 L1587.0,549.3 L1590.0,549.5 L1593.0,549.7 L1596.0,549.9 L1599.0,550.1 L1602.0,550.3 L1605.0,550.5 L1608.0,550.8 L1611.0,551.0 L1614.0,551.2 L1617.0,551.4 L1620.0,551.6 L1623.0,551.8 L1626.0,552.0 L1629.0,552.2 L1632.0,552.4 L1635.0,552.6 L1638.0,552.9 L1641.0,553.1 L1644.0,553.3 L1647.0,553.5 L1650.0,553.7 L1653.0,553.9 L1656.0,554.1 L1659.0,554.3 L1662.0,554.5 L1665.0,554.7 L1668.0,554.9 L1671.0,555.1 L1674.0,555.3 L1677.0,555.5 L1680.0,555.7 L1683.0,555.9 L1686.0,556.1 L1689.0,556.3 L1692.0,556.5 L1695.0,556.7 L1698.0,556.9 L1701.0,557.0 L1704.0,557.2 L1707.0,557.4 L1710.0,557.6 L1713.0,557.8 L1716.0,558.0 L1719.0,558.2 L1722.0,558.4 L1725.0,558.5 L1728.0,558.7 L1731.0,558.9 L1734.0,559.1 L1737.0,559.3 L1740.0,559.4 L1743.0,559.6 L1746.0,559.8 L1749.0,560.0 L1752.0,560.1 L1755.0,560.3 L1758.0,560.5 L1761.0,560.6 L1764.0,560.8 L1767.0,561.0 L1770.0,561.1 L1773.0,561.3 L1776.0,561.5 L1779.0,561.6 L1782.0,561.8 L1785.0,561.9 L1788.0,562.1 L1791.0,562.3 L1794.0,562.4 L1797.0,562.6 L1800.0,562.7 L1803.0,562.9 L1806.0,563.0 L1809.0,563.2 L1812.0,563.3 L1815.0,563.5 L1818.0,563.6 L1821.0,563.8 L1824.0,563.9 L1827.0,564.0 L1830.0,564.2 L1833.0,564.3 L1836.0,564.4 L1839.0,564.6 L1842.0,564.7 L1845.0,564.8 L1848.0,565.0 L1851.0,565.1 L1854.0,565.2 L1857.0,565.4 L1860.0,565.5 L1863.0,565.6 L1866.0,565.7 L1869.0,565.9 L1872.0,566.0 L1875.0,566.1 L1878.0,566.2 L1881.0,566.3 L1884.0,566.4 L1887.0,566.6 L1890.0,566.7 L1893.0,566.8 L1896.0,566.9 L1899.0,567.0 L1902.0,567.1 L1905.0,567.2 L1908.0,567.3 L1911.0,567.4 L1914.0,567.5 L1917.0,567.6 L1920.0,567.7 L1923.0,567.8 L1926.0,567.9 L1929.0,568.0 L1932.0,568.1 L1935.0,568.2 L1938.0,568.3 L1941.0,568.4 L1944.0,568.5 L1947.0,568.6 L1950.0,568.7 L1953.0,568.8 L1956.0,568.8 L1959.0,568.9 L1962.0,569.0 L1965.0,569.1 L1968.0,569.2 L1971.0,569.3 L1974.0,569.3 L1977.0,569.4 L1980.0,569.5 L1983.0,569.6 L1986.0,569.6 L1989.0,569.7 L1992.0,569.8 L1995.0,569.9 L1998.0,569.9 L2001.0,570.0 L2004.0,570.1 L2007.0,570.1 L2010.0,570.2 L2013.0,570.3 L2016.0,570.3 L2019.0,570.4 L2022.0,570.5 L2025.0,570.5 L2028.0,570.6 L2031.0,570.6 L2034.0,570.7 L2037.0,570.7 L2040.0,570.8 L2042.0,570.8" stroke="#f00" stroke-width="7" fill="none" stroke-linejoin="round"/>
<path d="M179,854.5 L2356,854.5" stroke="#00f" stroke-width="7" fill="none" stroke-linejoin="round"/>
<path d="M179,848.5 L2356,848.5" stroke="#f00" stroke-width="5" fill="none" stroke-linejoin="round"/>
<path d="M400.0,847.2 L403.0,847.2 L406.0,847.2 L409.0,847.2 L412.0,847.1 L415.0,847.1 L418.0,847.1 L421.0,847.0 L424.0,847.0 L427.0,847.0 L430.0,846.9 L433.0,846.9 L436.0,846.9 L439.0,846.8 L442.0,846.8 L445.0,846.8 L448.0,846.7 L451.0,846.7 L454.0,846.6 L457.0,846.6 L460.0,846.5 L463.0,846.5 L466.0,846.4 L469.0,846.4 L472.0,846.3 L475.0,846.3 L478.0,846.2 L481.0,846.2 L484.0,846.1 L487.0,846.1 L490.0,846.0 L493.0,845.9 L496.0,845.9 L499.0,845.8 L502.0,845.8 L505.0,845.7 L508.0,845.6 L511.0,845.5 L514.0,845.5 L517.0,845.4 L520.0,845.3 L523.0,845.2 L526.0,845.2 L529.0,845.1 L532.0,845.0 L535.0,844.9 L538.0,844.8 L541.0,844.7 L544.0,844.6 L547.0,844.6 L550.0,844.5 L553.0,844.4 L556.0,844.3 L559.0,844.2 L562.0,844.0 L565.0,843.9 L568.0,843.8 L571.0,843.7 L574.0,843.6 L577.0,843.5 L580.0,843.4 L583.0,843.2 L586.0,843.1 L589.0,843.0 L592.0,842.9 L595.0,842.7 L598.0,842.6 L601.0,842.5 L604.0,842.3 L607.0,842.2 L610.0,842.0 L613.0,841.9 L616.0,841.7 L619.0,841.6 L622.0,841.4 L625.0,841.2 L628.0,841.1 L631.0,840.9 L634.0,840.7 L637.0,840.6 L640.0,840.4 L643.0,840.2 L646.0,840.0 L649.0,839.8 L652.0,839.7 L655.0,839.5 L658.0,839.3 L661.0,839.1 L664.0,838.9 L667.0,838.7 L670.0,838.4 L673.0,838.2 L676.0,838.0 L679.0,837.8 L682.0,837.6 L685.0,837.3 L688.0,837.1 L691.0,836.9 L694.0,836.6 L697.0,836.4 L700.0,836.2 L703.0,835.9 L706.0,835.7 L709.0,835.4 L712.0,835.2 L715.0,834.9 L718.0,834.6 L721.0,834.4 L724.0,834.1 L727.0,833.8 L730.0,833.5 L733.0,833.3 L736.0,833.0 L739.0,832.7 L742.0,832.4 L745.0,832.1 L748.0,831.8 L751.0,831.5 L754.0,831.2 L757.0,830.9 L760.0,830.6 L763.0,830.2 L766.0,829.9 L769.0,829.6 L772.0,829.3 L775.0,829.0 L778.0,828.6 L781.0,828.3 L784.0,827.9 L787.0,827.6 L790.0,827.3 L793.0,826.9 L796.0,826.6 L799.0,826.2 L802.0,825.9 L805.0,825.5 L808.0,825.1 L811.0,824.8 L814.0,824.4 L817.0,824.0 L820.0,823.7 L823.0,823.3 L826.0,822.9 L829.0,822.5 L832.0,822.1 L835.0,821.8 L838.0,821.4 L841.0,821.0 L844.0,820.6 L847.0,820.2 L850.0,819.8 L853.0,819.4 L856.0,819.0 L859.0,818.6 L862.0,818.2 L865.0,817.8 L868.0,817.4 L871.0,817.0 L874.0,816.6 L877.0,816.2 L880.0,815.8 L883.0,815.4 L886.0,815.0 L889.0,814.6 L892.0,814.2 L895.0,813.8 L898.0,813.4 L901.0,813.0 L904.0,812.5 L907.0,812.1 L910.0,811.7 L913.0,811.3 L916.0,810.9 L919.0,810.5 L922.0,810.1 L925.0,809.7 L928.0,809.3 L931.0,808.9 L934.0,808.5 L937.0,808.1 L940.0,807.7 L943.0,807.3 L946.0,806.9 L949.0,806.5 L952.0,806.1 L955.0,805.7 L958.0,805.3 L961.0,804.9 L964.0,804.5 L967.0,804.2 L970.0,803.8 L973.0,803.4 L976.0,803.0 L979.0,802.7 L982.0,802.3 L985.0,801.9 L988.0,801.6 L991.0,801.2 L994.0,800.8 L997.0,800.5 L1000.0,800.1 L1003.0,799.8 L1006.0,799.5 L1009.0,799.1 L1012.0,798.8 L1015.0,798.5 L1018.0,798.2 L1021.0,797.8 L1024.0,797.5 L1027.0,797.2 L1030.0,796.9 L1033.0,796.6 L1036.0,796.3 L1039.0,796.0 L1042.0,795.8 L1045.0,795.5 L1048.0,795.2 L1051.0,795.0 L1054.0,794.7 L1057.0,794.4 L1060.0,794.2 L1063.0,794.0 L1066.0,793.7 L1069.0,793.5 L1072.0,793.3 L1075.0,793.1 L1078.0,792.9 L1081.0,792.7 L1084.0,792.5 L1087.0,792.3 L1090.0,792.1 L1093.0,791.9 L1096.0,791.8 L1099.0,791.6 L1102.0,791.4 L1105.0,791.3 L1108.0,791.2 L1111.0,791.0 L1114.0,790.9 L1117.0,790.8 L1120.0,790.7 L1123.0,790.6 L1126.0,790.5 L1129.0,790.4 L1132.0,790.3 L1135.0,790.3 L1138.0,790.2 L1141.0,790.2 L1144.0,790.1 L1147.0,790.1 L1150.0,790.0 L1153.0,790.0 L1156.0,790.0 L1159.0,790.0 L1162.0,790.0 L1165.0,790.0 L1168.0,790.0 L1171.0,790.1 L1174.0,790.1 L1177.0,790.1 L1180.0,790.2 L1183.0,790.2 L1186.0,790.3 L1189.0,790.4 L1192.0,790.4 L1195.0,790.5 L1198.0,790.6 L1201.0,790.7 L1204.0,790.8 L1207.0,791.0 L1210.0,791.1 L1213.0,791.2 L1216.0,791.4 L1219.0,791.5 L1222.0,791.7 L1225.0,791.8 L1228.0,792.0 L1231.0,792.2 L1234.0,792.3 L1237.0,792.5 L1240.0,792.7 L1243.0,792.9 L1246.0,793.1 L1249.0,793.4 L1252.0,793.6 L1255.0,793.8 L1258.0,794.0 L1261.0,794.3 L1264.0,794.5 L1267.0,794.8 L1270.0,795.0 L1273.0,795.3 L1276.0,795.6 L1279.0,795.9 L1282.0,796.1 L1285.0,796.4 L1288.0,796.7 L1291.0,797.0 L1294.0,797.3 L1297.0,797.6 L1300.0,797.9 L1303.0,798.3 L1306.0,798.6 L1309.0,798.9 L1312.0,799.2 L1315.0,799.6 L1318.0,799.9 L1321.0,800.3 L1324.0,800.6 L1327.0,801.0 L1330.0,801.3 L1333.0,801.7 L1336.0,802.0 L1339.0,802.4 L1342.0,802.8 L1345.0,803.1 L1348.0,803.5 L1351.0,803.9 L1354.0,804.3 L1357.0,804.7 L1360.0,805.1 L1363.0,805.4 L1366.0,805.8 L1369.0,806.2 L1372.0,806.6 L1375.0,807.0 L1378.0,807.4 L1381.0,807.8 L1384.0,808.2 L1387.0,808.6 L1390.0,809.0 L1393.0,809.4 L1396.0,809.8 L1399.0,810.2 L1402.0,810.6 L1405.0,811.1 L1408.0,811.5 L1411.0,811.9 L1414.0,812.3 L1417.0,812.7 L1420.0,813.1 L1423.0,813.5 L1426.0,813.9 L1429.0,814.3 L1432.0,814.7 L1435.0,815.1 L1438.0,815.5 L1441.0,815.9 L1444.0,816.4 L1447.0,816.8 L1450.0,817.2 L1453.0,817.6 L1456.0,818.0 L1459.0,818.4 L1462.0,818.8 L1465.0,819.2 L1468.0,819.6 L1471.0,820.0 L1474.0,820.3 L1477.0,820.7 L1480.0,821.1 L1483.0,821.5 L1486.0,821.9 L1489.0,822.3 L1492.0,822.7 L1495.0,823.0 L1498.0,823.4 L1501.0,823.8 L1504.0,824.2 L1507.0,824.5 L1510.0,824.9 L1513.0,825.3 L1516.0,825.6 L1519.0,826.0 L1522.0,826.3 L1525.0,826.7 L1528.0,827.0 L1531.0,827.4 L1534.0,827.7 L1537.0,828.1 L1540.0,828.4 L1543.0,828.7 L1546.0,829.1 L1549.0,829.4 L1552.0,829.7 L1555.0,830.0 L1558.0,830.4 L1561.0,830.7 L1564.0,831.0 L1567.0,831.3 L1570.0,831.6 L1573.0,831.9 L1576.0,832.2 L1579.0,832.5 L1582.0,832.8 L1585.0,833.1 L1588.0,833.3 L1591.0,833.6 L1594.0,833.9 L1597.0,834.2 L1600.0,834.5 L1603.0,834.7 L1606.0,835.0 L1609.0,835.2 L1612.0,835.5 L1615.0,835.8 L1618.0,836.0 L1621.0,836.2 L1624.0,836.5 L1627.0,836.7 L1630.0,837.0 L1633.0,837.2 L1636.0,837.4 L1639.0,837.7 L1642.0,837.9 L1645.0,838.1 L1648.0,838.3 L1651.0,838.5 L1654.0,838.7 L1657.0,838.9 L1660.0,839.1 L1663.0,839.3 L1666.0,839.5 L1669.0,839.7 L1672.0,839.9 L1675.0,840.1 L1678.0,840.3 L1681.0,840.5 L1684.0,840.6 L1687.0,840.8 L1690.0,841.0 L1693.0,841.1 L1696.0,841.3 L1699.0,841.5 L1702.0,841.6 L1705.0,841.8 L1708.0,841.9 L1711.0,842.1 L1714.0,842.2 L1717.0,842.4 L1720.0,842.5 L1723.0,842.6 L1726.0,842.8 L1729.0,842.9 L1732.0,843.0 L1735.0,843.2 L1738.0,843.3 L1741.0,843.4 L1744.0,843.5 L1747.0,843.6 L1750.0,843.8 L1753.0,843.9 L1756.0,844.0 L1759.0,844.1 L1762.0,844.2 L1765.0,844.3 L1768.0,844.4 L1771.0,844.5 L1774.0,844.6 L1777.0,844.7 L1780.0,844.8 L1783.0,844.9 L1786.0,844.9 L1789.0,845.0 L1792.0,845.1 L1795.0,845.2 L1798.0,845.3 L1801.0,845.4 L1804.0,845.4 L1807.0,845.5 L1810.0,845.6 L1813.0,845.6 L1816.0,845.7 L1819.0,845.8 L1822.0,845.8 L1825.0,845.9 L1828.0,846.0 L1831.0,846.0 L1834.0,846.1 L1837.0,846.1 L1840.0,846.2 L1843.0,846.3 L1846.0,846.3 L1849.0,846.4 L1852.0,846.4 L1855.0,846.5 L1858.0,846.5 L1861.0,846.6 L1864.0,846.6 L1867.0,846.6 L1870.0,846.7 L1873.0,846.7 L1876.0,846.8 L1879.0,846.8 L1882.0,846.8 L1885.0,846.9 L1888.0,846.9 L1891.0,847.0 L1894.0,847.0 L1897.0,847.0 L1900.0,847.1 L1903.0,847.1 L1906.0,847.1 L1909.0,847.1 L1912.0,847.2 L1915.0,847.2 L1918.0,847.2 L1921.0,847.3 L1924.0,847.3 L1927.0,847.3 L1930.0,847.3 L1933.0,847.3 L1936.0,847.4 L1939.0,847.4 L1942.0,847.4 L1945.0,847.4 L1948.0,847.5 L1951.0,847.5 L1954.0,847.5 L1957.0,847.5 L1960.0,847.5 L1963.0,847.5 L1966.0,847.6 L1969.0,847.6 L1972.0,847.6 L1975.0,847.6 L1978.0,847.6 L1981.0,847.6 L1984.0,847.6 L1987.0,847.7 L1990.0,847.7 L1993.0,847.7 L1996.0,847.7 L1999.0,847.7 L2002.0,847.7 L2005.0,847.7 L2008.0,847.7 L2011.0,847.7 L2014.0,847.8 L2017.0,847.8 L2020.0,847.8 L2023.0,847.8 L2026.0,847.8 L2029.0,847.8 L2032.0,847.8 L2034.0,847.8" stroke="#f00" stroke-width="7" fill="none" stroke-linejoin="round"/>
<path d="M557.0,852.2 L560.0,852.1 L563.0,851.9 L566.0,851.7 L569.0,851.6 L572.0,851.4 L575.0,851.2 L578.0,851.0 L581.0,850.7 L584.0,850.5 L587.0,850.3 L590.0,850.0 L593.0,849.7 L596.0,849.5 L599.0,849.2 L602.0,848.9 L605.0,848.6 L608.0,848.3 L611.0,847.9 L614.0,847.6 L617.0,847.2 L620.0,846.8 L623.0,846.4 L626.0,846.0 L629.0,845.6 L632.0,845.2 L635.0,844.7 L638.0,844.3 L641.0,843.8 L644.0,843.3 L647.0,842.8 L650.0,842.2 L653.0,841.7 L656.0,841.1 L659.0,840.6 L662.0,840.0 L665.0,839.3 L668.0,838.7 L671.0,838.1 L674.0,837.4 L677.0,836.7 L680.0,836.0 L683.0,835.3 L686.0,834.5 L689.0,833.8 L692.0,833.0 L695.0,832.2 L698.0,831.4 L701.0,830.6 L704.0,829.7 L707.0,828.8 L710.0,828.0 L713.0,827.1 L716.0,826.2 L719.0,825.2 L722.0,824.3 L725.0,823.3 L728.0,822.3 L731.0,821.3 L734.0,820.3 L737.0,819.3 L740.0,818.3 L743.0,817.3 L746.0,816.2 L749.0,815.1 L752.0,814.1 L755.0,813.0 L758.0,811.9 L761.0,810.8 L764.0,809.7 L767.0,808.5 L770.0,807.4 L773.0,806.3 L776.0,805.2 L779.0,804.0 L782.0,802.9 L785.0,801.8 L788.0,800.6 L791.0,799.5 L794.0,798.4 L797.0,797.3 L800.0,796.2 L803.0,795.0 L806.0,793.9 L809.0,792.8 L812.0,791.8 L815.0,790.7 L818.0,789.6 L821.0,788.6 L824.0,787.5 L827.0,786.5 L830.0,785.5 L833.0,784.5 L836.0,783.6 L839.0,782.6 L842.0,781.7 L845.0,780.8 L848.0,779.9 L851.0,779.1 L854.0,778.3 L857.0,777.5 L860.0,776.7 L863.0,776.0 L866.0,775.2 L869.0,774.6 L872.0,773.9 L875.0,773.3 L878.0,772.7 L881.0,772.2 L884.0,771.7 L887.0,771.2 L890.0,770.8 L893.0,770.4 L896.0,770.0 L899.0,769.7 L902.0,769.4 L905.0,769.1 L908.0,768.9 L911.0,768.8 L914.0,768.6 L917.0,768.6 L920.0,768.5 L923.0,768.5 L926.0,768.5 L929.0,768.6 L932.0,768.7 L935.0,768.9 L938.0,769.1 L941.0,769.3 L944.0,769.6 L947.0,769.9 L950.0,770.2 L953.0,770.6 L956.0,771.0 L959.0,771.5 L962.0,772.0 L965.0,772.5 L968.0,773.1 L971.0,773.7 L974.0,774.3 L977.0,775.0 L980.0,775.7 L983.0,776.4 L986.0,777.2 L989.0,778.0 L992.0,778.8 L995.0,779.6 L998.0,780.5 L1001.0,781.4 L1004.0,782.3 L1007.0,783.3 L1010.0,784.2 L1013.0,785.2 L1016.0,786.2 L1019.0,787.2 L1022.0,788.2 L1025.0,789.3 L1028.0,790.3 L1031.0,791.4 L1034.0,792.5 L1037.0,793.6 L1040.0,794.7 L1043.0,795.8 L1046.0,796.9 L1049.0,798.0 L1052.0,799.1 L1055.0,800.3 L1058.0,801.4 L1061.0,802.5 L1064.0,803.7 L1067.0,804.8 L1070.0,805.9 L1073.0,807.1 L1076.0,808.2 L1079.0,809.3 L1082.0,810.4 L1085.0,811.5 L1088.0,812.6 L1091.0,813.7 L1094.0,814.8 L1097.0,815.8 L1100.0,816.9 L1103.0,817.9 L1106.0,819.0 L1109.0,820.0 L1112.0,821.0 L1115.0,822.0 L1118.0,823.0 L1121.0,824.0 L1124.0,824.9 L1127.0,825.8 L1130.0,826.8 L1133.0,827.7 L1136.0,828.6 L1139.0,829.4 L1142.0,830.3 L1145.0,831.1 L1148.0,831.9 L1151.0,832.7 L1154.0,833.5 L1157.0,834.3 L1160.0,835.0 L1163.0,835.8 L1166.0,836.5 L1169.0,837.2 L1172.0,837.8 L1175.0,838.5 L1178.0,839.1 L1181.0,839.8 L1184.0,840.4 L1187.0,840.9 L1190.0,841.5 L1193.0,842.1 L1196.0,842.6 L1199.0,843.1 L1202.0,843.6 L1205.0,844.1 L1208.0,844.6 L1211.0,845.0 L1214.0,845.5 L1217.0,845.9 L1220.0,846.3 L1223.0,846.7 L1226.0,847.1 L1229.0,847.5 L1232.0,847.8 L1235.0,848.1 L1238.0,848.5 L1241.0,848.8 L1244.0,849.1 L1247.0,849.4 L1250.0,849.7 L1253.0,849.9 L1256.0,850.2 L1259.0,850.4 L1262.0,850.7 L1265.0,850.9 L1268.0,851.1" stroke="#0f0" stroke-width="7" fill="none" stroke-linejoin="round"/>
<path d="M540.0,852.0 C543.3,851.2 553.3,849.7 560.0,847.0 C566.7,844.3 573.3,838.8 580.0,836.0 C586.7,833.2 593.3,832.3 600.0,830.5 C606.7,828.7 613.3,827.0 620.0,825.0 C626.7,823.0 633.3,820.4 640.0,818.5 C646.7,816.6 652.5,814.8 660.0,813.5 C667.5,812.2 676.7,811.7 685.0,810.5 C693.3,809.3 702.2,807.9 710.0,806.5 C717.8,805.1 725.7,803.6 732.0,802.0 C738.3,800.4 742.5,798.8 748.0,797.0 C753.5,795.2 759.2,793.3 765.0,791.0 C770.8,788.7 776.8,785.9 783.0,783.0 C789.2,780.1 795.2,777.0 802.0,773.5 C808.8,770.0 816.7,765.8 824.0,762.0 C831.3,758.2 836.7,754.9 846.0,751.0 C855.3,747.1 868.5,742.2 880.0,738.5 C891.5,734.8 905.7,730.9 915.0,729.0 C924.3,727.1 928.9,727.3 936.0,727.0 C943.1,726.7 949.2,725.9 957.5,727.0 C965.8,728.1 972.2,730.0 985.7,733.4 C999.2,736.8 1021.0,743.1 1038.6,747.5 C1056.2,751.9 1070.8,754.8 1091.4,759.8 C1112.0,764.8 1138.6,772.4 1162.0,777.4 C1185.4,782.4 1208.5,785.6 1232.0,790.0 C1255.5,794.4 1279.5,799.7 1303.0,803.8 C1326.5,807.9 1349.5,810.9 1373.0,814.4 C1396.5,817.9 1420.5,821.9 1444.0,825.0 C1467.5,828.1 1490.5,830.7 1514.0,833.0 C1537.5,835.3 1566.1,837.3 1585.0,839.0 C1603.9,840.7 1599.8,842.0 1627.6,843.3 C1655.4,844.6 1731.3,846.4 1752.0,847.0" stroke="#000" stroke-width="7" fill="none" stroke-linejoin="round"/>
<path d="M520.0,854.5 C526.7,854.0 549.0,852.8 560.0,851.5 C571.0,850.2 578.3,848.5 586.0,847.0 C593.7,845.5 600.2,844.0 606.0,842.5 C611.8,841.0 613.7,839.0 621.0,838.0 C628.3,837.0 640.3,836.5 650.0,836.5 C659.7,836.5 671.8,837.1 679.0,838.0 C686.2,838.9 686.8,840.4 693.0,842.0 C699.2,843.6 707.3,845.8 716.0,847.5 C724.7,849.2 734.3,851.3 745.0,852.5 C755.7,853.7 774.2,854.2 780.0,854.5" stroke="#00f" stroke-width="7" fill="none" stroke-linejoin="round"/>
<path d="M2230,856.5 L2268,856.5" stroke="#0f0" stroke-width="6" fill="none" stroke-linejoin="round"/>
<path d="M179,1096.5 L2356,1096.5" stroke="#0f0" stroke-width="6" fill="none" stroke-linejoin="round"/>
<path d="M179.0,1091.0 C239.2,1090.9 477.4,1091.1 540.0,1090.5 C602.6,1089.9 547.8,1088.9 554.5,1087.5 C561.2,1086.1 572.4,1083.5 580.0,1082.0 C587.6,1080.5 593.3,1079.2 600.0,1078.5 C606.7,1077.8 605.0,1077.7 620.0,1077.5 C635.0,1077.3 674.7,1077.0 690.0,1077.5 C705.3,1078.0 703.7,1079.2 712.0,1080.5 C720.3,1081.8 727.7,1083.8 740.0,1085.5 C752.3,1087.2 771.0,1089.6 786.0,1090.5 C801.0,1091.4 568.3,1090.9 830.0,1091.0 C1091.7,1091.1 2101.7,1091.0 2356.0,1091.0" stroke="#00f" stroke-width="7" fill="none" stroke-linejoin="round"/>
<path d="M557.0,1094.0 C560.2,1093.8 568.0,1093.5 576.0,1092.7 C584.0,1091.9 592.7,1090.0 605.0,1089.0 C617.3,1088.0 634.3,1087.7 650.0,1087.0 C665.7,1086.3 685.7,1086.2 699.0,1085.0 C712.3,1083.8 719.8,1082.2 730.0,1079.5 C740.2,1076.8 749.3,1072.6 760.0,1069.0 C770.7,1065.4 781.0,1061.7 794.0,1058.0 C807.0,1054.3 823.5,1050.5 838.0,1047.0 C852.5,1043.5 869.0,1039.7 881.0,1037.0 C893.0,1034.3 899.2,1032.6 910.0,1031.0 C920.8,1029.4 934.3,1028.2 946.0,1027.5 C957.7,1026.8 968.7,1026.8 980.0,1026.8 C991.3,1026.8 1004.0,1026.7 1014.0,1027.5 C1024.0,1028.3 1031.0,1029.8 1040.0,1031.5 C1049.0,1033.2 1058.3,1035.8 1068.0,1038.0 C1077.7,1040.2 1087.7,1042.6 1098.0,1045.0 C1108.3,1047.4 1121.6,1050.3 1130.0,1052.5 C1138.4,1054.7 1141.9,1055.9 1148.6,1058.0 C1155.3,1060.1 1161.8,1062.8 1170.3,1065.0 C1178.8,1067.2 1189.6,1069.0 1199.3,1071.0 C1209.0,1073.0 1219.8,1075.3 1228.2,1077.0 C1236.7,1078.7 1241.4,1079.8 1250.0,1081.0 C1258.6,1082.2 1269.7,1083.4 1280.0,1084.0 C1290.3,1084.6 1306.7,1084.4 1312.0,1084.5" stroke="#0f0" stroke-width="7" fill="none" stroke-linejoin="round"/>
<path d="M560.0,1083.0 C563.9,1081.7 574.7,1077.5 583.4,1075.3 C592.1,1073.0 602.8,1071.5 612.4,1069.5 C622.0,1067.5 631.6,1064.9 641.3,1063.0 C650.9,1061.1 660.6,1059.5 670.3,1058.0 C680.0,1056.5 689.6,1055.6 699.3,1054.3 C708.9,1053.0 718.6,1051.4 728.2,1050.0 C737.9,1048.6 747.6,1047.8 757.2,1046.0 C766.9,1044.2 776.5,1041.6 786.1,1039.0 C795.7,1036.4 806.0,1033.3 815.0,1030.4 C824.0,1027.5 831.4,1024.7 840.0,1021.5 C848.6,1018.4 857.6,1014.8 866.9,1011.5 C876.2,1008.2 886.1,1004.9 895.8,1002.0 C905.4,999.1 916.3,996.2 924.8,994.0 C933.2,991.8 939.8,990.3 946.5,989.0 C953.2,987.7 956.1,986.8 965.0,986.0 C973.9,985.2 989.5,984.6 1000.0,984.5 C1010.5,984.4 1020.0,984.7 1028.0,985.5 C1036.0,986.3 1040.9,988.0 1047.8,989.5 C1054.7,991.0 1061.2,992.9 1069.6,994.7 C1078.0,996.5 1090.2,998.5 1098.0,1000.3 C1105.8,1002.1 1110.7,1003.7 1116.7,1005.3 C1122.7,1006.9 1127.5,1008.4 1134.0,1010.0 C1140.5,1011.6 1148.5,1013.3 1155.8,1014.7 C1163.0,1016.1 1169.0,1017.0 1177.5,1018.4 C1186.0,1019.8 1197.6,1021.8 1206.5,1023.4 C1215.4,1025.0 1221.3,1026.5 1231.0,1027.8 C1240.7,1029.1 1254.0,1030.2 1264.4,1031.4 C1274.8,1032.6 1283.6,1034.1 1293.4,1035.0 C1303.2,1035.9 1313.7,1036.1 1323.0,1037.0 C1332.3,1037.9 1339.5,1038.9 1349.0,1040.5 C1358.5,1042.1 1368.7,1044.2 1380.0,1046.5 C1391.3,1048.8 1403.7,1051.8 1417.0,1054.0 C1430.3,1056.2 1446.2,1057.9 1460.0,1059.5 C1473.8,1061.1 1485.8,1062.3 1500.0,1063.6 C1514.2,1064.9 1530.8,1066.0 1545.0,1067.2 C1559.2,1068.4 1574.2,1069.7 1585.0,1070.5 C1595.8,1071.3 1593.5,1070.6 1610.0,1072.0 C1626.5,1073.4 1659.2,1076.8 1684.0,1078.8 C1708.8,1080.8 1685.0,1083.0 1759.0,1084.0 C1833.0,1085.0 2066.5,1084.8 2128.0,1085.0" stroke="#000" stroke-width="7" fill="none" stroke-linejoin="round"/>
<path d="M360.0,1083.2 C391.8,1083.2 511.3,1084.0 551.0,1083.5 C590.7,1083.0 581.5,1081.2 598.0,1080.0 C614.5,1078.8 632.0,1077.2 650.0,1076.0 C668.0,1074.8 687.0,1073.3 706.0,1072.5 C725.0,1071.7 745.8,1071.9 764.0,1071.0 C782.2,1070.1 797.9,1069.0 815.0,1067.0 C832.1,1065.0 851.0,1061.0 866.9,1059.0 C882.8,1057.0 895.8,1056.3 910.3,1055.0 C924.8,1053.7 938.0,1052.4 953.7,1051.2 C969.4,1050.0 989.2,1048.6 1004.4,1047.6 C1019.6,1046.6 1034.1,1045.7 1045.0,1045.0 C1055.9,1044.3 1060.8,1044.1 1070.0,1043.5 C1079.2,1042.9 1088.2,1042.2 1100.0,1041.5 C1111.8,1040.8 1117.7,1039.8 1141.0,1039.5 C1164.3,1039.2 1215.3,1039.2 1240.0,1039.5 C1264.7,1039.8 1274.0,1040.2 1289.0,1041.0 C1304.0,1041.8 1315.7,1043.0 1330.0,1044.0 C1344.3,1045.0 1358.5,1046.0 1375.0,1047.0 C1391.5,1048.0 1411.6,1048.8 1429.0,1050.0 C1446.4,1051.2 1463.3,1052.6 1479.5,1054.0 C1495.7,1055.4 1510.6,1057.0 1526.0,1058.5 C1541.4,1060.0 1559.7,1061.8 1572.0,1063.0 C1584.3,1064.2 1584.5,1064.4 1600.0,1065.7 C1615.5,1067.0 1644.7,1069.5 1665.0,1071.0 C1685.3,1072.5 1701.2,1073.5 1722.0,1075.0 C1742.8,1076.5 1763.2,1078.6 1789.5,1080.0 C1815.8,1081.4 1832.3,1082.8 1880.0,1083.5 C1927.7,1084.2 2043.1,1084.3 2075.7,1084.5" stroke="#f00" stroke-width="7" fill="none" stroke-linejoin="round"/>
<path d="M179,1426.3 L2356,1426.3" stroke="#0f0" stroke-width="7" fill="none" stroke-linejoin="round"/>
<path d="M561.0,1417.5 C570.8,1417.2 596.8,1416.5 620.0,1416.0 C643.2,1415.5 681.8,1415.7 700.0,1414.8 C718.2,1413.9 718.2,1411.7 729.0,1410.4 C739.8,1409.1 753.0,1408.0 765.0,1406.8 C777.0,1405.6 790.4,1404.8 801.3,1403.2 C812.2,1401.6 820.6,1398.9 830.3,1397.4 C840.0,1396.0 849.6,1396.0 859.3,1394.5 C868.9,1393.0 878.6,1390.6 888.2,1388.7 C897.9,1386.8 907.6,1385.0 917.2,1383.0 C926.8,1381.0 936.4,1379.4 946.0,1377.0 C955.6,1374.6 966.0,1371.3 975.0,1368.5 C984.0,1365.7 993.7,1361.8 1000.0,1360.0 C1006.3,1358.2 1002.8,1360.3 1013.0,1357.5 C1023.2,1354.7 1046.0,1348.0 1061.3,1343.0 C1076.6,1338.0 1088.6,1330.8 1104.7,1327.4 C1120.8,1324.0 1149.0,1323.3 1157.8,1322.5" stroke="#f00" stroke-width="7" fill="none" stroke-linejoin="round"/>
<path d="M179.0,1419.3 C228.5,1419.3 426.0,1420.0 476.0,1419.3 C526.0,1418.6 465.4,1416.0 479.0,1415.0 C492.6,1414.0 535.7,1414.8 557.6,1413.0 C579.5,1411.2 592.9,1407.9 610.5,1404.0 C628.1,1400.1 648.4,1395.3 663.3,1389.6 C678.2,1383.9 689.0,1376.4 700.0,1370.0 C711.0,1363.6 719.3,1357.0 729.0,1351.0 C738.7,1345.0 748.4,1339.5 758.0,1333.7 C767.6,1327.9 777.3,1322.1 786.9,1316.3 C796.5,1310.5 808.6,1303.6 815.8,1299.0 C823.0,1294.4 825.5,1293.3 830.3,1288.8 C835.1,1284.3 840.5,1277.3 844.8,1272.0 C849.1,1266.7 852.0,1262.7 856.0,1257.0 C860.0,1251.3 864.9,1245.0 869.0,1238.0 C873.1,1231.0 876.2,1222.5 880.5,1215.0 C884.8,1207.5 890.9,1199.2 895.0,1193.3 C899.1,1187.4 902.2,1182.5 905.0,1179.5 C907.8,1176.5 909.0,1175.9 912.0,1175.2 C915.0,1174.5 920.0,1174.4 923.0,1175.2 C926.0,1176.0 927.0,1177.2 930.0,1180.0 C933.0,1182.8 937.5,1186.8 941.3,1191.9 C945.1,1197.0 949.4,1204.4 953.0,1210.7 C956.6,1217.0 959.6,1223.0 963.0,1229.5 C966.4,1236.0 969.6,1242.5 973.2,1249.8 C976.8,1257.0 980.9,1265.3 984.8,1273.0 C988.7,1280.7 992.5,1290.5 996.4,1296.0 C1000.3,1301.5 1003.7,1305.7 1008.0,1306.2 C1012.3,1306.7 1017.6,1302.9 1022.4,1299.0 C1027.2,1295.1 1032.7,1286.9 1037.0,1283.0 C1041.3,1279.1 1045.3,1277.0 1048.0,1275.8 C1050.7,1274.6 1051.0,1275.1 1053.0,1275.8 C1055.0,1276.5 1056.9,1277.3 1060.0,1280.2 C1063.1,1283.1 1067.7,1288.1 1071.6,1293.2 C1075.5,1298.3 1078.8,1305.8 1083.2,1310.6 C1087.6,1315.4 1093.6,1319.5 1097.7,1322.2 C1101.8,1324.9 1103.7,1326.0 1107.8,1326.5 C1111.9,1327.0 1118.7,1326.2 1122.3,1325.5 C1125.9,1324.8 1124.9,1323.6 1129.6,1322.5 C1134.3,1321.4 1142.3,1320.4 1150.6,1319.0 C1158.9,1317.6 1166.4,1315.4 1179.6,1314.0 C1192.8,1312.6 1216.3,1311.1 1230.0,1310.5 C1243.7,1309.9 1249.9,1309.7 1261.6,1310.5 C1273.3,1311.3 1285.0,1313.6 1300.0,1315.3 C1315.0,1317.0 1334.4,1317.4 1351.6,1320.4 C1368.8,1323.4 1386.1,1328.6 1403.3,1333.3 C1420.5,1338.0 1437.8,1343.6 1455.0,1348.8 C1472.2,1354.0 1489.4,1359.6 1506.6,1364.3 C1523.8,1369.0 1540.8,1373.2 1558.0,1377.2 C1575.2,1381.2 1592.8,1385.1 1610.0,1388.6 C1627.2,1392.0 1641.7,1394.6 1661.5,1397.9 C1681.3,1401.2 1707.9,1405.5 1728.6,1408.2 C1749.2,1410.9 1751.0,1412.3 1785.4,1414.0 C1819.8,1415.7 1839.9,1417.6 1935.0,1418.5 C2030.1,1419.4 2285.8,1419.3 2356.0,1419.5" stroke="#000" stroke-width="7" fill="none" stroke-linejoin="round"/>
<path d="M561.0,1417.8 C569.2,1416.6 593.5,1415.4 610.5,1410.7 C627.5,1406.0 648.4,1395.4 663.3,1389.6 C678.2,1383.8 689.0,1380.7 700.0,1375.7 C711.0,1370.7 719.3,1365.3 729.0,1359.8 C738.7,1354.2 749.6,1347.0 758.0,1342.4 C766.4,1337.8 772.4,1335.0 779.6,1332.3 C786.8,1329.6 794.6,1327.6 801.3,1326.5 C808.0,1325.4 812.8,1325.8 820.0,1325.7 C827.2,1325.6 838.2,1325.2 844.8,1326.0 C851.3,1326.8 852.1,1328.5 859.3,1330.8 C866.5,1333.0 878.6,1336.1 888.2,1339.5 C897.9,1342.9 908.8,1346.3 917.2,1351.0 C925.7,1355.7 931.7,1362.7 938.9,1367.5 C946.1,1372.3 952.1,1375.8 960.6,1380.0 C969.1,1384.2 980.9,1389.8 989.6,1393.0 C998.3,1396.2 1001.0,1397.0 1013.0,1399.5 C1025.0,1402.0 1047.2,1406.0 1061.3,1408.2 C1075.4,1410.5 1081.4,1411.8 1097.5,1413.0 C1113.6,1414.2 1140.7,1414.9 1157.8,1415.4 C1174.9,1415.9 1094.6,1415.9 1200.0,1416.0 C1305.4,1416.1 1691.7,1416.0 1790.0,1416.0" stroke="#f0f" stroke-width="7" fill="none" stroke-linejoin="round"/>
<path d="M709.0,1419.5 C724.3,1419.2 783.7,1419.1 801.0,1417.7 C818.3,1416.3 807.2,1415.3 813.0,1411.0 C818.8,1406.7 829.5,1398.2 836.0,1391.6 C842.5,1385.0 846.9,1378.1 852.0,1371.3 C857.1,1364.5 862.4,1358.2 866.5,1351.0 C870.6,1343.8 873.0,1336.0 876.6,1328.0 C880.2,1320.0 883.9,1310.5 888.2,1303.3 C892.6,1296.0 898.7,1289.4 902.7,1284.5 C906.7,1279.6 909.6,1276.0 912.0,1274.0 C914.4,1272.0 914.7,1272.7 917.2,1272.5 C919.7,1272.3 924.2,1272.3 927.0,1273.0 C929.8,1273.7 930.8,1273.4 934.0,1276.5 C937.2,1279.6 941.6,1285.1 946.0,1291.7 C950.4,1298.3 955.8,1307.4 960.6,1316.3 C965.4,1325.2 970.4,1337.3 975.0,1345.3 C979.6,1353.2 983.8,1358.0 988.0,1364.0 C992.2,1370.0 995.8,1375.7 1000.0,1381.0 C1004.2,1386.3 1008.0,1391.1 1013.0,1396.0 C1018.0,1400.9 1022.0,1406.9 1030.0,1410.6 C1038.0,1414.2 1050.0,1416.1 1061.3,1417.9 C1072.5,1419.7 1091.5,1420.9 1097.5,1421.5" stroke="#00f" stroke-width="7" fill="none" stroke-linejoin="round"/>
<path d="M940.0,1426.0 L943.0,1426.0 L946.0,1426.0 L949.0,1426.0 L952.0,1426.0 L955.0,1426.0 L958.0,1425.9 L961.0,1425.9 L964.0,1425.8 L967.0,1425.8 L970.0,1425.7 L973.0,1425.5 L976.0,1425.3 L979.0,1425.0 L982.0,1424.5 L985.0,1424.0 L988.0,1423.3 L991.0,1422.3 L994.0,1421.1 L997.0,1419.6 L1000.0,1417.8 L1003.0,1415.6 L1006.0,1413.1 L1009.0,1410.1 L1012.0,1406.8 L1015.0,1403.1 L1018.0,1399.1 L1021.0,1394.9 L1024.0,1390.5 L1027.0,1386.1 L1030.0,1381.8 L1033.0,1377.8 L1036.0,1374.3 L1039.0,1371.2 L1042.0,1368.9 L1045.0,1367.3 L1048.0,1366.5 L1051.0,1366.7 L1054.0,1367.7 L1057.0,1369.6 L1060.0,1372.2 L1063.0,1375.4 L1066.0,1379.1 L1069.0,1383.2 L1072.0,1387.6 L1075.0,1392.0 L1078.0,1396.3 L1081.0,1400.5 L1084.0,1404.4 L1087.0,1408.0 L1090.0,1411.2 L1093.0,1414.0 L1096.0,1416.4 L1099.0,1418.5 L1102.0,1420.2 L1105.0,1421.5 L1108.0,1422.6 L1111.0,1423.5 L1114.0,1424.2 L1117.0,1424.7 L1120.0,1425.1 L1123.0,1425.4 L1126.0,1425.6 L1129.0,1425.7 L1132.0,1425.8 L1135.0,1425.9 L1138.0,1425.9 L1141.0,1425.9 L1144.0,1426.0 L1147.0,1426.0 L1150.0,1426.0 L1153.0,1426.0 L1156.0,1426.0 L1159.0,1426.0 L1160.0,1426.0" stroke="#0f0" stroke-width="7" fill="none" stroke-linejoin="round"/>
<path d="M600.0,1603.5 C606.4,1602.9 621.0,1601.1 638.6,1600.0 C656.2,1598.9 687.4,1597.8 705.6,1596.8 C723.8,1595.8 735.1,1595.2 748.0,1594.0 C760.9,1592.8 771.8,1591.4 783.0,1589.8 C794.2,1588.2 805.0,1586.0 815.0,1584.5 C825.0,1583.0 833.0,1582.5 843.0,1581.0 C853.0,1579.5 865.2,1577.1 874.7,1575.7 C884.2,1574.3 890.3,1573.6 900.0,1572.5 C909.7,1571.4 920.5,1570.6 933.0,1569.2 C945.5,1567.8 958.0,1565.7 975.0,1564.0 C992.0,1562.3 1005.8,1559.9 1035.0,1559.0 C1064.2,1558.1 1111.2,1558.8 1150.0,1558.7 C1188.8,1558.7 1245.1,1559.3 1267.6,1558.7 C1290.1,1558.1 1269.8,1556.5 1285.0,1555.0 C1300.2,1553.5 1339.8,1551.2 1359.0,1550.0 C1378.2,1548.8 1373.2,1548.3 1400.0,1548.0 C1426.8,1547.7 1491.7,1547.2 1520.0,1548.0 C1548.3,1548.8 1539.5,1549.2 1570.0,1553.0 C1600.5,1556.8 1659.5,1565.1 1703.0,1571.0 C1746.5,1576.9 1791.5,1584.0 1831.0,1588.5 C1870.5,1593.0 1908.0,1595.8 1940.0,1598.0 C1972.0,1600.2 1996.3,1601.0 2023.0,1602.0 C2049.7,1603.0 2087.2,1603.7 2100.0,1604.0" stroke="#000" stroke-width="7" fill="none" stroke-linejoin="round"/>
<path d="M179,1605.5 L2356,1605.5" stroke="#f00" stroke-width="7" fill="none" stroke-linejoin="round"/>
<path d="M400.0,1604.8 L403.0,1604.7 L406.0,1604.7 L409.0,1604.7 L412.0,1604.7 L415.0,1604.6 L418.0,1604.6 L421.0,1604.6 L424.0,1604.5 L427.0,1604.5 L430.0,1604.4 L433.0,1604.4 L436.0,1604.4 L439.0,1604.3 L442.0,1604.3 L445.0,1604.2 L448.0,1604.2 L451.0,1604.1 L454.0,1604.1 L457.0,1604.0 L460.0,1604.0 L463.0,1603.9 L466.0,1603.9 L469.0,1603.8 L472.0,1603.8 L475.0,1603.7 L478.0,1603.6 L481.0,1603.6 L484.0,1603.5 L487.0,1603.4 L490.0,1603.4 L493.0,1603.3 L496.0,1603.2 L499.0,1603.1 L502.0,1603.1 L505.0,1603.0 L508.0,1602.9 L511.0,1602.8 L514.0,1602.7 L517.0,1602.7 L520.0,1602.6 L523.0,1602.5 L526.0,1602.4 L529.0,1602.3 L532.0,1602.2 L535.0,1602.1 L538.0,1602.0 L541.0,1601.9 L544.0,1601.8 L547.0,1601.6 L550.0,1601.5 L553.0,1601.4 L556.0,1601.3 L559.0,1601.2 L562.0,1601.0 L565.0,1600.9 L568.0,1600.8 L571.0,1600.7 L574.0,1600.5 L577.0,1600.4 L580.0,1600.2 L583.0,1600.1 L586.0,1599.9 L589.0,1599.8 L592.0,1599.6 L595.0,1599.5 L598.0,1599.3 L601.0,1599.2 L604.0,1599.0 L607.0,1598.8 L610.0,1598.6 L613.0,1598.5 L616.0,1598.3 L619.0,1598.1 L622.0,1597.9 L625.0,1597.7 L628.0,1597.6 L631.0,1597.4 L634.0,1597.2 L637.0,1597.0 L640.0,1596.8 L643.0,1596.6 L646.0,1596.3 L649.0,1596.1 L652.0,1595.9 L655.0,1595.7 L658.0,1595.5 L661.0,1595.3 L664.0,1595.0 L667.0,1594.8 L670.0,1594.6 L673.0,1594.3 L676.0,1594.1 L679.0,1593.9 L682.0,1593.6 L685.0,1593.4 L688.0,1593.1 L691.0,1592.9 L694.0,1592.6 L697.0,1592.3 L700.0,1592.1 L703.0,1591.8 L706.0,1591.6 L709.0,1591.3 L712.0,1591.0 L715.0,1590.8 L718.0,1590.5 L721.0,1590.2 L724.0,1589.9 L727.0,1589.6 L730.0,1589.4 L733.0,1589.1 L736.0,1588.8 L739.0,1588.5 L742.0,1588.2 L745.0,1587.9 L748.0,1587.6 L751.0,1587.3 L754.0,1587.1 L757.0,1586.8 L760.0,1586.5 L763.0,1586.2 L766.0,1585.9 L769.0,1585.6 L772.0,1585.3 L775.0,1585.0 L778.0,1584.7 L781.0,1584.4 L784.0,1584.1 L787.0,1583.8 L790.0,1583.5 L793.0,1583.2 L796.0,1582.9 L799.0,1582.6 L802.0,1582.3 L805.0,1582.0 L808.0,1581.7 L811.0,1581.4 L814.0,1581.1 L817.0,1580.8 L820.0,1580.5 L823.0,1580.2 L826.0,1579.9 L829.0,1579.6 L832.0,1579.3 L835.0,1579.1 L838.0,1578.8 L841.0,1578.5 L844.0,1578.2 L847.0,1577.9 L850.0,1577.7 L853.0,1577.4 L856.0,1577.1 L859.0,1576.9 L862.0,1576.6 L865.0,1576.4 L868.0,1576.1 L871.0,1575.8 L874.0,1575.6 L877.0,1575.4 L880.0,1575.1 L883.0,1574.9 L886.0,1574.7 L889.0,1574.4 L892.0,1574.2 L895.0,1574.0 L898.0,1573.8 L901.0,1573.6 L904.0,1573.4 L907.0,1573.2 L910.0,1573.0 L913.0,1572.8 L916.0,1572.6 L919.0,1572.4 L922.0,1572.3 L925.0,1572.1 L928.0,1571.9 L931.0,1571.8 L934.0,1571.6 L937.0,1571.5 L940.0,1571.4 L943.0,1571.2 L946.0,1571.1 L949.0,1571.0 L952.0,1570.9 L955.0,1570.8 L958.0,1570.7 L961.0,1570.6 L964.0,1570.5 L967.0,1570.4 L970.0,1570.3 L973.0,1570.3 L976.0,1570.2 L979.0,1570.2 L982.0,1570.1 L985.0,1570.1 L988.0,1570.1 L991.0,1570.0 L994.0,1570.0 L997.0,1570.0 L1000.0,1570.0 L1003.0,1570.0 L1006.0,1570.0 L1009.0,1570.0 L1012.0,1570.1 L1015.0,1570.1 L1018.0,1570.2 L1021.0,1570.3 L1024.0,1570.3 L1027.0,1570.4 L1030.0,1570.5 L1033.0,1570.6 L1036.0,1570.7 L1039.0,1570.9 L1042.0,1571.0 L1045.0,1571.2 L1048.0,1571.3 L1051.0,1571.5 L1054.0,1571.7 L1057.0,1571.8 L1060.0,1572.0 L1063.0,1572.2 L1066.0,1572.4 L1069.0,1572.7 L1072.0,1572.9 L1075.0,1573.1 L1078.0,1573.4 L1081.0,1573.6 L1084.0,1573.9 L1087.0,1574.1 L1090.0,1574.4 L1093.0,1574.7 L1096.0,1575.0 L1099.0,1575.2 L1102.0,1575.5 L1105.0,1575.8 L1108.0,1576.2 L1111.0,1576.5 L1114.0,1576.8 L1117.0,1577.1 L1120.0,1577.4 L1123.0,1577.8 L1126.0,1578.1 L1129.0,1578.4 L1132.0,1578.8 L1135.0,1579.1 L1138.0,1579.5 L1141.0,1579.8 L1144.0,1580.2 L1147.0,1580.6 L1150.0,1580.9 L1153.0,1581.3 L1156.0,1581.6 L1159.0,1582.0 L1162.0,1582.4 L1165.0,1582.7 L1168.0,1583.1 L1171.0,1583.5 L1174.0,1583.8 L1177.0,1584.2 L1180.0,1584.6 L1183.0,1585.0 L1186.0,1585.3 L1189.0,1585.7 L1192.0,1586.1 L1195.0,1586.4 L1198.0,1586.8 L1201.0,1587.1 L1204.0,1587.5 L1207.0,1587.9 L1210.0,1588.2 L1213.0,1588.6 L1216.0,1588.9 L1219.0,1589.3 L1222.0,1589.6 L1225.0,1590.0 L1228.0,1590.3 L1231.0,1590.6 L1234.0,1591.0 L1237.0,1591.3 L1240.0,1591.6 L1243.0,1592.0 L1246.0,1592.3 L1249.0,1592.6 L1252.0,1592.9 L1255.0,1593.2 L1258.0,1593.5 L1261.0,1593.8 L1264.0,1594.1 L1267.0,1594.4 L1270.0,1594.7 L1273.0,1595.0 L1276.0,1595.3 L1279.0,1595.5 L1282.0,1595.8 L1285.0,1596.1 L1288.0,1596.3 L1291.0,1596.6 L1294.0,1596.8 L1297.0,1597.1 L1300.0,1597.3 L1303.0,1597.6 L1306.0,1597.8 L1309.0,1598.0 L1312.0,1598.3 L1315.0,1598.5 L1318.0,1598.7 L1321.0,1598.9 L1324.0,1599.1 L1327.0,1599.3 L1330.0,1599.5 L1333.0,1599.7 L1336.0,1599.9 L1339.0,1600.1 L1342.0,1600.2 L1345.0,1600.4 L1348.0,1600.6 L1351.0,1600.8 L1354.0,1600.9 L1357.0,1601.1 L1360.0,1601.2 L1363.0,1601.4 L1366.0,1601.5 L1369.0,1601.7 L1372.0,1601.8 L1375.0,1601.9 L1378.0,1602.1 L1381.0,1602.2 L1384.0,1602.3 L1387.0,1602.4 L1390.0,1602.5 L1393.0,1602.6 L1396.0,1602.8 L1399.0,1602.9 L1402.0,1603.0 L1405.0,1603.1 L1408.0,1603.2 L1411.0,1603.2 L1414.0,1603.3 L1417.0,1603.4 L1420.0,1603.5 L1423.0,1603.6 L1426.0,1603.7 L1429.0,1603.7 L1432.0,1603.8 L1435.0,1603.9 L1438.0,1604.0 L1441.0,1604.0 L1444.0,1604.1 L1447.0,1604.1 L1450.0,1604.2 L1453.0,1604.3 L1456.0,1604.3 L1459.0,1604.4 L1462.0,1604.4 L1465.0,1604.5 L1468.0,1604.5 L1471.0,1604.6 L1474.0,1604.6 L1477.0,1604.6 L1480.0,1604.7 L1483.0,1604.7 L1486.0,1604.7 L1489.0,1604.8 L1492.0,1604.8 L1495.0,1604.9 L1498.0,1604.9 L1501.0,1604.9 L1504.0,1604.9 L1507.0,1605.0 L1510.0,1605.0 L1513.0,1605.0 L1516.0,1605.0 L1519.0,1605.1 L1522.0,1605.1 L1525.0,1605.1 L1528.0,1605.1 L1531.0,1605.1 L1534.0,1605.2 L1537.0,1605.2 L1540.0,1605.2 L1543.0,1605.2 L1546.0,1605.2 L1549.0,1605.2 L1552.0,1605.3 L1555.0,1605.3 L1558.0,1605.3 L1561.0,1605.3 L1564.0,1605.3 L1567.0,1605.3 L1570.0,1605.3 L1573.0,1605.3 L1576.0,1605.3 L1579.0,1605.4 L1582.0,1605.4 L1585.0,1605.4 L1588.0,1605.4 L1591.0,1605.4 L1594.0,1605.4 L1597.0,1605.4 L1600.0,1605.4 L1603.0,1605.4 L1606.0,1605.4 L1609.0,1605.4 L1612.0,1605.4 L1615.0,1605.4 L1618.0,1605.4 L1621.0,1605.4 L1624.0,1605.4 L1627.0,1605.4 L1630.0,1605.4 L1633.0,1605.4 L1636.0,1605.5 L1639.0,1605.5 L1642.0,1605.5 L1645.0,1605.5 L1648.0,1605.5 L1651.0,1605.5 L1654.0,1605.5 L1657.0,1605.5 L1660.0,1605.5 L1663.0,1605.5 L1666.0,1605.5 L1669.0,1605.5 L1672.0,1605.5 L1675.0,1605.5 L1678.0,1605.5 L1681.0,1605.5 L1684.0,1605.5 L1687.0,1605.5 L1690.0,1605.5 L1693.0,1605.5 L1696.0,1605.5 L1699.0,1605.5 L1702.0,1605.5 L1705.0,1605.5 L1708.0,1605.5 L1711.0,1605.5 L1714.0,1605.5 L1717.0,1605.5 L1720.0,1605.5 L1723.0,1605.5 L1726.0,1605.5 L1729.0,1605.5 L1732.0,1605.5 L1735.0,1605.5 L1738.0,1605.5 L1741.0,1605.5 L1744.0,1605.5 L1747.0,1605.5 L1750.0,1605.5 L1753.0,1605.5 L1756.0,1605.5 L1759.0,1605.5 L1762.0,1605.5 L1765.0,1605.5 L1768.0,1605.5 L1771.0,1605.5 L1774.0,1605.5 L1777.0,1605.5 L1780.0,1605.5 L1783.0,1605.5 L1786.0,1605.5 L1789.0,1605.5 L1792.0,1605.5 L1795.0,1605.5 L1798.0,1605.5 L1800.0,1605.5" stroke="#f00" stroke-width="7" fill="none" stroke-linejoin="round"/>
<path d="M850.0,1603.5 L853.0,1603.5 L856.0,1603.4 L859.0,1603.3 L862.0,1603.3 L865.0,1603.2 L868.0,1603.1 L871.0,1603.0 L874.0,1602.9 L877.0,1602.9 L880.0,1602.8 L883.0,1602.7 L886.0,1602.6 L889.0,1602.5 L892.0,1602.4 L895.0,1602.3 L898.0,1602.2 L901.0,1602.1 L904.0,1602.0 L907.0,1601.9 L910.0,1601.8 L913.0,1601.7 L916.0,1601.6 L919.0,1601.5 L922.0,1601.3 L925.0,1601.2 L928.0,1601.1 L931.0,1601.0 L934.0,1600.8 L937.0,1600.7 L940.0,1600.6 L943.0,1600.4 L946.0,1600.3 L949.0,1600.1 L952.0,1600.0 L955.0,1599.8 L958.0,1599.7 L961.0,1599.5 L964.0,1599.4 L967.0,1599.2 L970.0,1599.0 L973.0,1598.8 L976.0,1598.7 L979.0,1598.5 L982.0,1598.3 L985.0,1598.1 L988.0,1597.9 L991.0,1597.7 L994.0,1597.5 L997.0,1597.3 L1000.0,1597.1 L1003.0,1596.9 L1006.0,1596.7 L1009.0,1596.5 L1012.0,1596.3 L1015.0,1596.0 L1018.0,1595.8 L1021.0,1595.6 L1024.0,1595.3 L1027.0,1595.1 L1030.0,1594.8 L1033.0,1594.6 L1036.0,1594.3 L1039.0,1594.1 L1042.0,1593.8 L1045.0,1593.5 L1048.0,1593.3 L1051.0,1593.0 L1054.0,1592.7 L1057.0,1592.4 L1060.0,1592.2 L1063.0,1591.9 L1066.0,1591.6 L1069.0,1591.3 L1072.0,1591.0 L1075.0,1590.7 L1078.0,1590.4 L1081.0,1590.0 L1084.0,1589.7 L1087.0,1589.4 L1090.0,1589.1 L1093.0,1588.7 L1096.0,1588.4 L1099.0,1588.1 L1102.0,1587.7 L1105.0,1587.4 L1108.0,1587.0 L1111.0,1586.7 L1114.0,1586.3 L1117.0,1586.0 L1120.0,1585.6 L1123.0,1585.2 L1126.0,1584.9 L1129.0,1584.5 L1132.0,1584.1 L1135.0,1583.7 L1138.0,1583.3 L1141.0,1583.0 L1144.0,1582.6 L1147.0,1582.2 L1150.0,1581.8 L1153.0,1581.4 L1156.0,1581.0 L1159.0,1580.6 L1162.0,1580.2 L1165.0,1579.8 L1168.0,1579.3 L1171.0,1578.9 L1174.0,1578.5 L1177.0,1578.1 L1180.0,1577.7 L1183.0,1577.3 L1186.0,1576.8 L1189.0,1576.4 L1192.0,1576.0 L1195.0,1575.6 L1198.0,1575.1 L1201.0,1574.7 L1204.0,1574.3 L1207.0,1573.8 L1210.0,1573.4 L1213.0,1573.0 L1216.0,1572.5 L1219.0,1572.1 L1222.0,1571.7 L1225.0,1571.2 L1228.0,1570.8 L1231.0,1570.4 L1234.0,1569.9 L1237.0,1569.5 L1240.0,1569.1 L1243.0,1568.7 L1246.0,1568.2 L1249.0,1567.8 L1252.0,1567.4 L1255.0,1566.9 L1258.0,1566.5 L1261.0,1566.1 L1264.0,1565.7 L1267.0,1565.3 L1270.0,1564.8 L1273.0,1564.4 L1276.0,1564.0 L1279.0,1563.6 L1282.0,1563.2 L1285.0,1562.8 L1288.0,1562.4 L1291.0,1562.0 L1294.0,1561.6 L1297.0,1561.2 L1300.0,1560.8 L1303.0,1560.4 L1306.0,1560.1 L1309.0,1559.7 L1312.0,1559.3 L1315.0,1559.0 L1318.0,1558.6 L1321.0,1558.3 L1324.0,1557.9 L1327.0,1557.6 L1330.0,1557.2 L1333.0,1556.9 L1336.0,1556.6 L1339.0,1556.2 L1342.0,1555.9 L1345.0,1555.6 L1348.0,1555.3 L1351.0,1555.0 L1354.0,1554.7 L1357.0,1554.4 L1360.0,1554.2 L1363.0,1553.9 L1366.0,1553.6 L1369.0,1553.4 L1372.0,1553.1 L1375.0,1552.9 L1378.0,1552.7 L1381.0,1552.4 L1384.0,1552.2 L1387.0,1552.0 L1390.0,1551.8 L1393.0,1551.6 L1396.0,1551.4 L1399.0,1551.2 L1402.0,1551.1 L1405.0,1550.9 L1408.0,1550.8 L1411.0,1550.6 L1414.0,1550.5 L1417.0,1550.3 L1420.0,1550.2 L1423.0,1550.1 L1426.0,1550.0 L1429.0,1549.9 L1432.0,1549.8 L1435.0,1549.8 L1438.0,1549.7 L1441.0,1549.6 L1444.0,1549.6 L1447.0,1549.6 L1450.0,1549.5 L1453.0,1549.5 L1456.0,1549.5 L1459.0,1549.5 L1462.0,1549.5 L1465.0,1549.5 L1468.0,1549.6 L1471.0,1549.6 L1474.0,1549.6 L1477.0,1549.7 L1480.0,1549.7 L1483.0,1549.8 L1486.0,1549.9 L1489.0,1550.0 L1492.0,1550.1 L1495.0,1550.2 L1498.0,1550.3 L1501.0,1550.4 L1504.0,1550.6 L1507.0,1550.7 L1510.0,1550.9 L1513.0,1551.0 L1516.0,1551.2 L1519.0,1551.4 L1522.0,1551.5 L1525.0,1551.7 L1528.0,1551.9 L1531.0,1552.1 L1534.0,1552.4 L1537.0,1552.6 L1540.0,1552.8 L1543.0,1553.0 L1546.0,1553.3 L1549.0,1553.5 L1552.0,1553.8 L1555.0,1554.1 L1558.0,1554.3 L1561.0,1554.6 L1564.0,1554.9 L1567.0,1555.2 L1570.0,1555.5 L1573.0,1555.8 L1576.0,1556.1 L1579.0,1556.5 L1582.0,1556.8 L1585.0,1557.1 L1588.0,1557.4 L1591.0,1557.8 L1594.0,1558.1 L1597.0,1558.5 L1600.0,1558.8 L1603.0,1559.2 L1606.0,1559.6 L1609.0,1559.9 L1612.0,1560.3 L1615.0,1560.7 L1618.0,1561.1 L1621.0,1561.5 L1624.0,1561.9 L1627.0,1562.3 L1630.0,1562.7 L1633.0,1563.1 L1636.0,1563.5 L1639.0,1563.9 L1642.0,1564.3 L1645.0,1564.7 L1648.0,1565.1 L1651.0,1565.5 L1654.0,1566.0 L1657.0,1566.4 L1660.0,1566.8 L1663.0,1567.2 L1666.0,1567.6 L1669.0,1568.1 L1672.0,1568.5 L1675.0,1568.9 L1678.0,1569.4 L1681.0,1569.8 L1684.0,1570.2 L1687.0,1570.7 L1690.0,1571.1 L1693.0,1571.5 L1696.0,1572.0 L1699.0,1572.4 L1702.0,1572.8 L1705.0,1573.3 L1708.0,1573.7 L1711.0,1574.1 L1714.0,1574.6 L1717.0,1575.0 L1720.0,1575.4 L1723.0,1575.8 L1726.0,1576.3 L1729.0,1576.7 L1732.0,1577.1 L1735.0,1577.5 L1738.0,1578.0 L1741.0,1578.4 L1744.0,1578.8 L1747.0,1579.2 L1750.0,1579.6 L1753.0,1580.0 L1756.0,1580.4 L1759.0,1580.8 L1762.0,1581.2 L1765.0,1581.6 L1768.0,1582.0 L1771.0,1582.4 L1774.0,1582.8 L1777.0,1583.2 L1780.0,1583.6 L1783.0,1584.0 L1786.0,1584.4 L1789.0,1584.7 L1792.0,1585.1 L1795.0,1585.5 L1798.0,1585.8 L1801.0,1586.2 L1804.0,1586.6 L1807.0,1586.9 L1810.0,1587.3 L1813.0,1587.6 L1816.0,1588.0 L1819.0,1588.3 L1822.0,1588.6 L1825.0,1589.0 L1828.0,1589.3 L1831.0,1589.6 L1834.0,1589.9 L1837.0,1590.2 L1840.0,1590.6 L1843.0,1590.9 L1846.0,1591.2 L1849.0,1591.5 L1852.0,1591.8 L1855.0,1592.1 L1858.0,1592.3 L1861.0,1592.6 L1864.0,1592.9 L1867.0,1593.2 L1870.0,1593.5 L1873.0,1593.7 L1876.0,1594.0 L1879.0,1594.2 L1882.0,1594.5 L1885.0,1594.8 L1888.0,1595.0 L1891.0,1595.2 L1894.0,1595.5 L1897.0,1595.7 L1900.0,1595.9 L1903.0,1596.2 L1906.0,1596.4 L1909.0,1596.6 L1912.0,1596.8 L1915.0,1597.0 L1918.0,1597.3 L1921.0,1597.5 L1924.0,1597.7 L1927.0,1597.9 L1930.0,1598.0 L1933.0,1598.2 L1936.0,1598.4 L1939.0,1598.6 L1942.0,1598.8 L1945.0,1599.0 L1948.0,1599.1 L1951.0,1599.3 L1954.0,1599.5 L1957.0,1599.6 L1960.0,1599.8 L1963.0,1599.9 L1966.0,1600.1 L1969.0,1600.2 L1972.0,1600.4 L1975.0,1600.5 L1978.0,1600.7 L1981.0,1600.8 L1984.0,1600.9 L1987.0,1601.1 L1990.0,1601.2 L1993.0,1601.3 L1996.0,1601.4 L1999.0,1601.5 L2002.0,1601.7 L2005.0,1601.8 L2008.0,1601.9 L2011.0,1602.0 L2014.0,1602.1 L2017.0,1602.2 L2020.0,1602.3 L2023.0,1602.4 L2026.0,1602.5 L2029.0,1602.6 L2032.0,1602.7 L2035.0,1602.8 L2038.0,1602.8 L2041.0,1602.9 L2044.0,1603.0 L2047.0,1603.1 L2050.0,1603.2 L2053.0,1603.2 L2056.0,1603.3 L2059.0,1603.4 L2062.0,1603.4 L2065.0,1603.5 L2068.0,1603.6 L2071.0,1603.6 L2074.0,1603.7 L2077.0,1603.8 L2080.0,1603.8 L2083.0,1603.9 L2086.0,1603.9 L2089.0,1604.0 L2092.0,1604.0 L2095.0,1604.1 L2098.0,1604.1 L2101.0,1604.2 L2104.0,1604.2 L2107.0,1604.3 L2110.0,1604.3 L2113.0,1604.3 L2116.0,1604.4 L2119.0,1604.4 L2122.0,1604.5 L2125.0,1604.5 L2128.0,1604.5 L2131.0,1604.6 L2134.0,1604.6 L2137.0,1604.6 L2140.0,1604.7 L2143.0,1604.7 L2146.0,1604.7 L2149.0,1604.8 L2152.0,1604.8 L2155.0,1604.8 L2158.0,1604.8 L2161.0,1604.9 L2164.0,1604.9 L2167.0,1604.9 L2170.0,1604.9 L2173.0,1605.0 L2176.0,1605.0 L2179.0,1605.0 L2182.0,1605.0 L2185.0,1605.0 L2188.0,1605.1 L2191.0,1605.1 L2194.0,1605.1 L2197.0,1605.1 L2200.0,1605.1 L2203.0,1605.1 L2206.0,1605.1 L2209.0,1605.2 L2212.0,1605.2 L2215.0,1605.2 L2218.0,1605.2 L2221.0,1605.2 L2224.0,1605.2 L2227.0,1605.2 L2230.0,1605.2 L2233.0,1605.3 L2236.0,1605.3 L2239.0,1605.3 L2242.0,1605.3 L2245.0,1605.3 L2248.0,1605.3 L2251.0,1605.3 L2254.0,1605.3 L2257.0,1605.3 L2260.0,1605.3 L2263.0,1605.3 L2266.0,1605.3 L2269.0,1605.4 L2272.0,1605.4 L2275.0,1605.4 L2278.0,1605.4 L2281.0,1605.4 L2284.0,1605.4 L2287.0,1605.4 L2290.0,1605.4 L2293.0,1605.4 L2296.0,1605.4 L2299.0,1605.4 L2302.0,1605.4 L2305.0,1605.4 L2308.0,1605.4 L2311.0,1605.4 L2314.0,1605.4 L2317.0,1605.4 L2320.0,1605.4 L2323.0,1605.4 L2326.0,1605.4 L2329.0,1605.4 L2332.0,1605.4 L2335.0,1605.4 L2338.0,1605.4 L2341.0,1605.5 L2344.0,1605.5 L2347.0,1605.5 L2350.0,1605.5 L2353.0,1605.5 L2356.0,1605.5" stroke="#f00" stroke-width="7" fill="none" stroke-linejoin="round"/>
<path d="M1000.0,1775.5 C1019.5,1774.7 1075.3,1772.2 1117.0,1770.8 C1158.7,1769.3 1216.2,1767.9 1250.0,1766.8 C1283.8,1765.7 1300.5,1765.0 1320.0,1764.0 C1339.5,1763.0 1352.8,1761.4 1367.0,1760.8 C1381.2,1760.2 1391.3,1760.6 1405.0,1760.5 C1418.7,1760.4 1433.2,1760.9 1449.0,1760.0 C1464.8,1759.1 1484.8,1756.5 1500.0,1755.0 C1515.2,1753.5 1526.0,1752.8 1540.0,1751.0 C1554.0,1749.2 1569.0,1746.7 1584.0,1744.0 C1599.0,1741.3 1616.0,1737.8 1630.0,1735.0 C1644.0,1732.2 1654.7,1729.3 1668.0,1727.0 C1681.3,1724.7 1696.0,1722.3 1710.0,1721.0 C1724.0,1719.7 1738.7,1719.2 1752.0,1719.0 C1765.3,1718.8 1779.5,1719.0 1790.0,1719.5 C1800.5,1720.0 1805.0,1719.9 1815.0,1722.0 C1825.0,1724.1 1839.5,1728.7 1850.0,1732.0 C1860.5,1735.3 1862.8,1737.9 1878.0,1742.0 C1893.2,1746.1 1920.0,1752.8 1941.0,1756.5 C1962.0,1760.2 1986.5,1762.3 2004.0,1764.0 C2021.5,1765.7 2028.5,1765.2 2046.0,1766.5 C2063.5,1767.8 2088.0,1770.7 2109.0,1772.0 C2130.0,1773.3 2148.2,1773.7 2172.0,1774.4 C2195.8,1775.2 2238.3,1776.2 2251.6,1776.5" stroke="#000" stroke-width="7" fill="none" stroke-linejoin="round"/>
<path d="M179,1783.5 L2356,1783.5" stroke="#f00" stroke-width="9" fill="none" stroke-linejoin="round"/>
<path d="M700.0,1782.0 C716.7,1781.8 770.0,1781.0 800.0,1780.5 C830.0,1780.0 846.7,1779.8 880.0,1779.0 C913.3,1778.2 959.7,1776.9 1000.0,1775.5 C1040.3,1774.1 1080.3,1771.9 1122.0,1770.5 C1163.7,1769.1 1217.0,1767.8 1250.0,1767.0 C1283.0,1766.2 1298.3,1765.5 1320.0,1765.5 C1341.7,1765.5 1358.3,1766.1 1380.0,1767.0 C1401.7,1767.9 1423.3,1769.8 1450.0,1771.0 C1476.7,1772.2 1507.8,1773.2 1540.0,1774.0 C1572.2,1774.8 1608.0,1775.2 1643.0,1776.0 C1678.0,1776.8 1714.3,1777.9 1750.0,1778.6 C1785.7,1779.3 1823.7,1779.4 1857.0,1780.0 C1890.3,1780.6 1909.5,1781.4 1950.0,1782.0 C1990.5,1782.6 2075.0,1783.2 2100.0,1783.5" stroke="#f00" stroke-width="7" fill="none" stroke-linejoin="round"/>
<path d="M1200.0,1783.3 L1203.0,1783.3 L1206.0,1783.3 L1209.0,1783.3 L1212.0,1783.2 L1215.0,1783.2 L1218.0,1783.2 L1221.0,1783.2 L1224.0,1783.2 L1227.0,1783.2 L1230.0,1783.1 L1233.0,1783.1 L1236.0,1783.1 L1239.0,1783.1 L1242.0,1783.0 L1245.0,1783.0 L1248.0,1783.0 L1251.0,1783.0 L1254.0,1782.9 L1257.0,1782.9 L1260.0,1782.9 L1263.0,1782.8 L1266.0,1782.8 L1269.0,1782.8 L1272.0,1782.7 L1275.0,1782.7 L1278.0,1782.6 L1281.0,1782.6 L1284.0,1782.5 L1287.0,1782.5 L1290.0,1782.4 L1293.0,1782.4 L1296.0,1782.3 L1299.0,1782.3 L1302.0,1782.2 L1305.0,1782.1 L1308.0,1782.1 L1311.0,1782.0 L1314.0,1781.9 L1317.0,1781.9 L1320.0,1781.8 L1323.0,1781.7 L1326.0,1781.6 L1329.0,1781.5 L1332.0,1781.4 L1335.0,1781.3 L1338.0,1781.2 L1341.0,1781.1 L1344.0,1781.0 L1347.0,1780.9 L1350.0,1780.8 L1353.0,1780.7 L1356.0,1780.5 L1359.0,1780.4 L1362.0,1780.3 L1365.0,1780.1 L1368.0,1780.0 L1371.0,1779.8 L1374.0,1779.7 L1377.0,1779.5 L1380.0,1779.4 L1383.0,1779.2 L1386.0,1779.0 L1389.0,1778.8 L1392.0,1778.6 L1395.0,1778.4 L1398.0,1778.2 L1401.0,1778.0 L1404.0,1777.8 L1407.0,1777.6 L1410.0,1777.4 L1413.0,1777.1 L1416.0,1776.9 L1419.0,1776.7 L1422.0,1776.4 L1425.0,1776.1 L1428.0,1775.9 L1431.0,1775.6 L1434.0,1775.3 L1437.0,1775.0 L1440.0,1774.7 L1443.0,1774.4 L1446.0,1774.1 L1449.0,1773.8 L1452.0,1773.5 L1455.0,1773.1 L1458.0,1772.8 L1461.0,1772.5 L1464.0,1772.1 L1467.0,1771.7 L1470.0,1771.4 L1473.0,1771.0 L1476.0,1770.6 L1479.0,1770.2 L1482.0,1769.8 L1485.0,1769.4 L1488.0,1769.0 L1491.0,1768.5 L1494.0,1768.1 L1497.0,1767.6 L1500.0,1767.2 L1503.0,1766.7 L1506.0,1766.3 L1509.0,1765.8 L1512.0,1765.3 L1515.0,1764.8 L1518.0,1764.3 L1521.0,1763.8 L1524.0,1763.3 L1527.0,1762.8 L1530.0,1762.3 L1533.0,1761.8 L1536.0,1761.2 L1539.0,1760.7 L1542.0,1760.2 L1545.0,1759.6 L1548.0,1759.1 L1551.0,1758.5 L1554.0,1757.9 L1557.0,1757.4 L1560.0,1756.8 L1563.0,1756.2 L1566.0,1755.7 L1569.0,1755.1 L1572.0,1754.5 L1575.0,1753.9 L1578.0,1753.3 L1581.0,1752.7 L1584.0,1752.1 L1587.0,1751.5 L1590.0,1750.9 L1593.0,1750.3 L1596.0,1749.7 L1599.0,1749.1 L1602.0,1748.6 L1605.0,1748.0 L1608.0,1747.4 L1611.0,1746.8 L1614.0,1746.2 L1617.0,1745.6 L1620.0,1745.0 L1623.0,1744.4 L1626.0,1743.9 L1629.0,1743.3 L1632.0,1742.7 L1635.0,1742.2 L1638.0,1741.6 L1641.0,1741.1 L1644.0,1740.5 L1647.0,1740.0 L1650.0,1739.5 L1653.0,1738.9 L1656.0,1738.4 L1659.0,1737.9 L1662.0,1737.4 L1665.0,1736.9 L1668.0,1736.5 L1671.0,1736.0 L1674.0,1735.6 L1677.0,1735.1 L1680.0,1734.7 L1683.0,1734.3 L1686.0,1733.8 L1689.0,1733.5 L1692.0,1733.1 L1695.0,1732.7 L1698.0,1732.3 L1701.0,1732.0 L1704.0,1731.7 L1707.0,1731.4 L1710.0,1731.1 L1713.0,1730.8 L1716.0,1730.5 L1719.0,1730.3 L1722.0,1730.0 L1725.0,1729.8 L1728.0,1729.6 L1731.0,1729.4 L1734.0,1729.3 L1737.0,1729.1 L1740.0,1729.0 L1743.0,1728.9 L1746.0,1728.7 L1749.0,1728.7 L1752.0,1728.6 L1755.0,1728.5 L1758.0,1728.5 L1761.0,1728.5 L1764.0,1728.5 L1767.0,1728.5 L1770.0,1728.6 L1773.0,1728.6 L1776.0,1728.7 L1779.0,1728.8 L1782.0,1728.9 L1785.0,1729.0 L1788.0,1729.2 L1791.0,1729.3 L1794.0,1729.5 L1797.0,1729.7 L1800.0,1729.9 L1803.0,1730.1 L1806.0,1730.4 L1809.0,1730.6 L1812.0,1730.9 L1815.0,1731.2 L1818.0,1731.5 L1821.0,1731.8 L1824.0,1732.1 L1827.0,1732.5 L1830.0,1732.8 L1833.0,1733.2 L1836.0,1733.6 L1839.0,1734.0 L1842.0,1734.4 L1845.0,1734.8 L1848.0,1735.3 L1851.0,1735.7 L1854.0,1736.2 L1857.0,1736.6 L1860.0,1737.1 L1863.0,1737.6 L1866.0,1738.1 L1869.0,1738.6 L1872.0,1739.1 L1875.0,1739.6 L1878.0,1740.2 L1881.0,1740.7 L1884.0,1741.2 L1887.0,1741.8 L1890.0,1742.4 L1893.0,1742.9 L1896.0,1743.5 L1899.0,1744.1 L1902.0,1744.6 L1905.0,1745.2 L1908.0,1745.8 L1911.0,1746.4 L1914.0,1747.0 L1917.0,1747.6 L1920.0,1748.2 L1923.0,1748.8 L1926.0,1749.3 L1929.0,1749.9 L1932.0,1750.5 L1935.0,1751.1 L1938.0,1751.7 L1941.0,1752.3 L1944.0,1752.9 L1947.0,1753.5 L1950.0,1754.1 L1953.0,1754.7 L1956.0,1755.3 L1959.0,1755.8 L1962.0,1756.4 L1965.0,1757.0 L1968.0,1757.6 L1971.0,1758.1 L1974.0,1758.7 L1977.0,1759.2 L1980.0,1759.8 L1983.0,1760.3 L1986.0,1760.9 L1989.0,1761.4 L1992.0,1762.0 L1995.0,1762.5 L1998.0,1763.0 L2001.0,1763.5 L2004.0,1764.0 L2007.0,1764.5 L2010.0,1765.0 L2013.0,1765.5 L2016.0,1766.0 L2019.0,1766.4 L2022.0,1766.9 L2025.0,1767.3 L2028.0,1767.8 L2031.0,1768.2 L2034.0,1768.7 L2037.0,1769.1 L2040.0,1769.5 L2043.0,1769.9 L2046.0,1770.3 L2049.0,1770.7 L2052.0,1771.1 L2055.0,1771.5 L2058.0,1771.9 L2061.0,1772.2 L2064.0,1772.6 L2067.0,1772.9 L2070.0,1773.3 L2073.0,1773.6 L2076.0,1773.9 L2079.0,1774.2 L2082.0,1774.5 L2085.0,1774.8 L2088.0,1775.1 L2091.0,1775.4 L2094.0,1775.7 L2097.0,1776.0 L2100.0,1776.2 L2103.0,1776.5 L2106.0,1776.7 L2109.0,1777.0 L2112.0,1777.2 L2115.0,1777.5 L2118.0,1777.7 L2121.0,1777.9 L2124.0,1778.1 L2127.0,1778.3 L2130.0,1778.5 L2133.0,1778.7 L2136.0,1778.9 L2139.0,1779.1 L2142.0,1779.2 L2145.0,1779.4 L2148.0,1779.6 L2151.0,1779.7 L2154.0,1779.9 L2157.0,1780.0 L2160.0,1780.2 L2163.0,1780.3 L2166.0,1780.4 L2169.0,1780.6 L2172.0,1780.7 L2175.0,1780.8 L2178.0,1780.9 L2181.0,1781.0 L2184.0,1781.2 L2187.0,1781.3 L2190.0,1781.4 L2193.0,1781.5 L2196.0,1781.5 L2199.0,1781.6 L2202.0,1781.7 L2205.0,1781.8 L2208.0,1781.9 L2211.0,1782.0 L2214.0,1782.0 L2217.0,1782.1 L2220.0,1782.2 L2223.0,1782.2 L2226.0,1782.3 L2229.0,1782.3 L2232.0,1782.4 L2235.0,1782.5 L2238.0,1782.5 L2241.0,1782.6 L2244.0,1782.6 L2247.0,1782.6 L2250.0,1782.7 L2253.0,1782.7 L2256.0,1782.8 L2259.0,1782.8 L2262.0,1782.8 L2265.0,1782.9 L2268.0,1782.9 L2271.0,1782.9 L2274.0,1783.0 L2277.0,1783.0 L2280.0,1783.0 L2283.0,1783.1 L2286.0,1783.1 L2289.0,1783.1 L2292.0,1783.1 L2295.0,1783.1 L2298.0,1783.2 L2301.0,1783.2 L2304.0,1783.2 L2307.0,1783.2 L2310.0,1783.2 L2313.0,1783.2 L2316.0,1783.3 L2319.0,1783.3 L2322.0,1783.3 L2325.0,1783.3 L2328.0,1783.3 L2331.0,1783.3 L2334.0,1783.3 L2337.0,1783.3 L2340.0,1783.4 L2343.0,1783.4 L2346.0,1783.4 L2349.0,1783.4 L2352.0,1783.4 L2355.0,1783.4 L2356.0,1783.4" stroke="#f00" stroke-width="7" fill="none" stroke-linejoin="round"/>
</g>
<g font-family="&quot;Liberation Serif&quot;, serif" font-weight="bold" fill="#000">
<text transform="translate(1836.66,115.40) scale(0.6555,0.7221)" font-size="100">15 Ni/ ZrO<tspan font-size="71.00" dy="26.50">2</tspan><tspan dy="-26.50">/ CNT</tspan></text>
<text transform="translate(1832.60,351.60) scale(0.6502,0.7130)" font-size="100">10 Ni/ ZrO<tspan font-size="71.00" dy="26.50">2</tspan><tspan dy="-26.50">/ CNT</tspan></text>
<text transform="translate(1812.38,664.40) scale(0.6540,0.7267)" font-size="100">5.0 Ni/ ZrO<tspan font-size="71.00" dy="26.50">2</tspan><tspan dy="-26.50">/ CNT</tspan></text>
<text transform="translate(1819.40,938.80) scale(0.6505,0.7053)" font-size="100">2.5 Ni/ ZrO<tspan font-size="71.00" dy="26.50">2</tspan><tspan dy="-26.50">/ CNT</tspan></text>
<text transform="translate(1993.16,1192.60) scale(0.6554,0.7176)" font-size="100">10 Ni / CNT</text>
<text transform="translate(2034.65,1526.20) scale(0.6551,0.7176)" font-size="100">ZrO<tspan font-size="71.00" dy="26.50">2</tspan><tspan dy="-26.50">/CNT</tspan></text>
<text transform="translate(2191.01,1711.80) scale(0.6572,0.7176)" font-size="100">CNT</text>
<text transform="translate(362.07,136.07) scale(0.6042,0.6285)" font-size="100">183</text>
<text transform="translate(728.43,181.97) scale(0.6042,0.6285)" font-size="100">325</text>
<text transform="translate(1046.19,110.17) scale(0.6042,0.6285)" font-size="100">436</text>
<text transform="translate(1301.68,165.27) scale(0.6042,0.6285)" font-size="100">520</text>
<text transform="translate(489.18,486.07) scale(0.6042,0.6285)" font-size="100">235</text>
<text transform="translate(628.18,468.67) scale(0.6042,0.6285)" font-size="100">279</text>
<text transform="translate(914.73,389.57) scale(0.6042,0.6285)" font-size="100">387</text>
<text transform="translate(1167.74,443.57) scale(0.6042,0.6285)" font-size="100">482</text>
<text transform="translate(605.98,773.17) scale(0.6042,0.6285)" font-size="100">273</text>
<text transform="translate(879.44,702.17) scale(0.6042,0.6285)" font-size="100">372</text>
<text transform="translate(1109.19,743.37) scale(0.6042,0.6285)" font-size="100">458</text>
<text transform="translate(619.53,1013.87) scale(0.6042,0.6285)" font-size="100">279</text>
<text transform="translate(939.53,955.77) scale(0.6042,0.6285)" font-size="100">393</text>
<text transform="translate(1175.74,985.67) scale(0.6042,0.6285)" font-size="100">481</text>
<text transform="translate(758.19,1263.87) scale(0.6042,0.6285)" font-size="100">340</text>
<text transform="translate(862.93,1158.07) scale(0.6042,0.6285)" font-size="100">374</text>
<text transform="translate(1003.94,1250.77) scale(0.6042,0.6285)" font-size="100">419</text>
<text transform="translate(1189.09,1284.37) scale(0.6042,0.6285)" font-size="100">499</text>
<text transform="translate(940.43,1526.37) scale(0.6042,0.6285)" font-size="100">399</text>
<text transform="translate(1399.33,1517.37) scale(0.6042,0.6285)" font-size="100">570</text>
<text transform="translate(1230.08,1732.77) scale(0.6042,0.6285)" font-size="100">523</text>
<text transform="translate(1715.39,1677.77) scale(0.6042,0.6285)" font-size="100">682</text>
<text transform="translate(104.13,1926.79) scale(1.0185,1.0148)" font-size="100">100</text>
<text transform="translate(375.47,1926.79) scale(1.0185,1.0148)" font-size="100">200</text>
<text transform="translate(646.37,1926.79) scale(1.0185,1.0148)" font-size="100">300</text>
<text transform="translate(921.09,1926.79) scale(1.0185,1.0148)" font-size="100">400</text>
<text transform="translate(1188.12,1926.79) scale(1.0185,1.0148)" font-size="100">500</text>
<text transform="translate(1461.82,1926.79) scale(1.0185,1.0148)" font-size="100">600</text>
<text transform="translate(1731.50,1926.79) scale(1.0185,1.0148)" font-size="100">700</text>
<text transform="translate(2003.32,1926.79) scale(1.0185,1.0148)" font-size="100">800</text>
<text transform="translate(2274.58,1926.79) scale(1.0185,1.0148)" font-size="100">900</text>
<text transform="translate(858.36,2066.50) scale(1.0958,1.1069)" font-size="100">Temperature (<tspan font-size="58.30" dy="-38.70">o</tspan><tspan dy="38.70">C)</tspan></text>
<text transform="translate(99.70,1595.17) rotate(-90) scale(1.0848,1.1344)" font-size="100">Normalized TCD signal (a.u.)</text>
</g>
</svg></body></html>
